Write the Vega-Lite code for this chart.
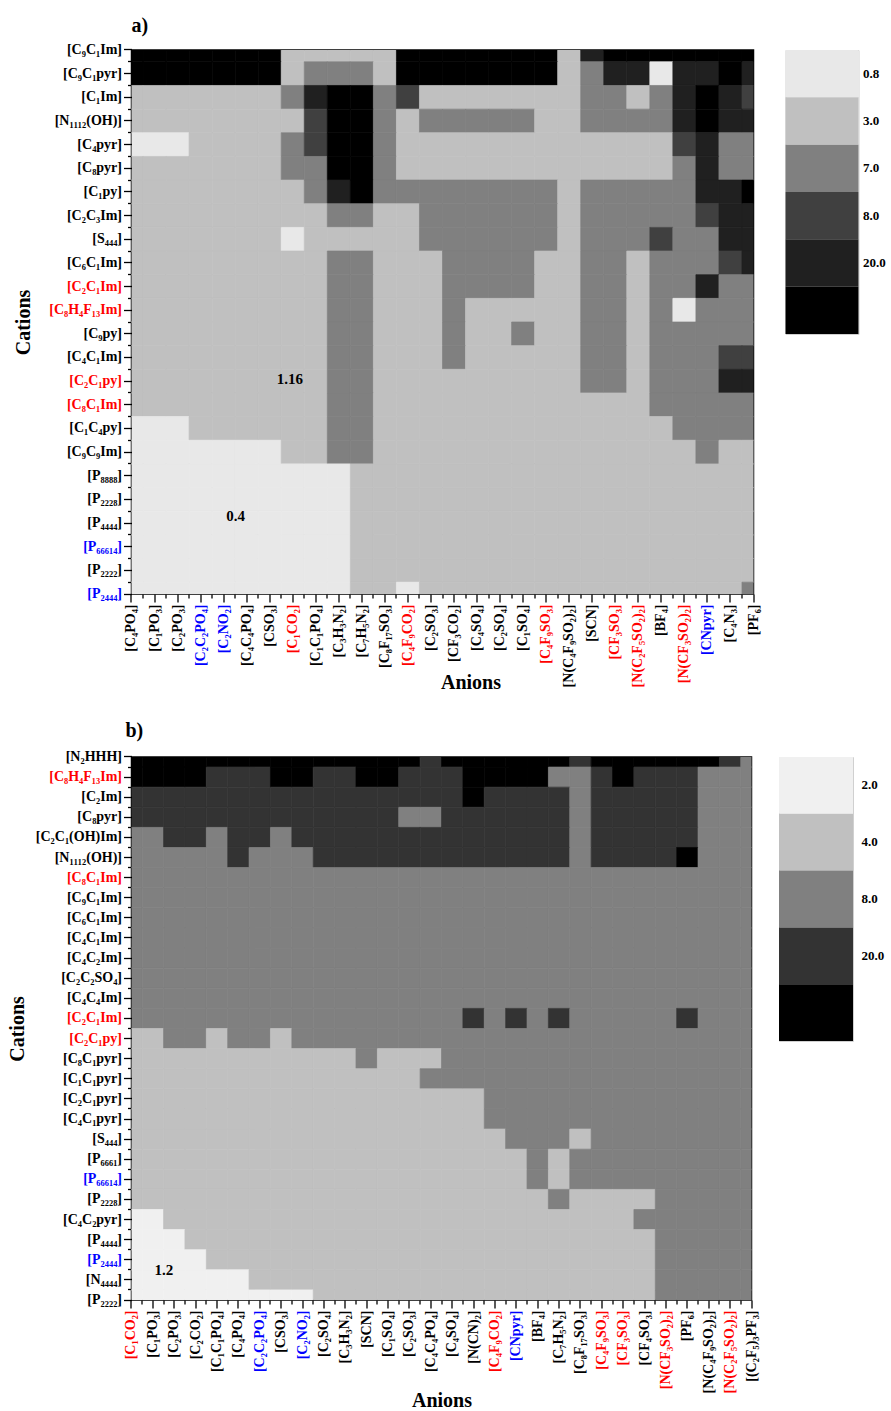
{
"$schema":"https://vega.github.io/schema/vega-lite/v6.json",
"background":"white",
"padding":{"left":6.5,"top":15,"right":0,"bottom":0},
"config":{"font":"Liberation Serif","view":{"stroke":"black","strokeWidth":1.5},
"axis":{"labelFont":"Liberation Serif","labelFontWeight":"bold","labelFontSize":14,"labelColor":"black","tickColor":"black","tickWidth":1.3,"titleFont":"Liberation Serif","titleFontWeight":"bold","titleFontSize":20,"titleColor":"black","domain":false,"grid":false,"labelOverlap":false,"labelFlush":false},
"title":{"font":"Liberation Serif","fontWeight":"bold","fontSize":20,"color":"black"}},
"resolve":{"scale":{"color":"independent","stroke":"independent"}},
"spacing":27,
"datasets":{
"la":[{"cls":"<0.8","v":0.4},{"cls":"0.8-3.0","v":1.16},{"cls":"3.0-7.0","v":5},{"cls":"7.0-8.0","v":7.5},{"cls":"8.0-20.0","v":12},{"cls":">20.0","v":30}],
"lb":[{"cls":"<2.0","v":1.2},{"cls":"2.0-4.0","v":3},{"cls":"4.0-8.0","v":6},{"cls":"8.0-20.0","v":12},{"cls":">20.0","v":30}],
"ta1":[{"x":"C1CO2","y":"C2C1py","t":"1.16"}],
"ta2":[{"x":"C2NO2","y":"P4444","t":"0.4"}],
"tb":[{"x":"C1PO3","y":"P2444","t":"1.2"}],
"a":[
{"x":"C4PO4","y":"C9C1Im","v":30},{"x":"C1PO3","y":"C9C1Im","v":30},{"x":"C2PO3","y":"C9C1Im","v":30},{"x":"C2C2PO4","y":"C9C1Im","v":30},{"x":"C2NO2","y":"C9C1Im","v":30},{"x":"C4C4PO4","y":"C9C1Im","v":30},{"x":"CSO3","y":"C9C1Im","v":30},{"x":"C1CO2","y":"C9C1Im","v":1.16},{"x":"C1C1PO4","y":"C9C1Im","v":1.16},{"x":"C3H3N2","y":"C9C1Im","v":1.16},{"x":"C7H5N2","y":"C9C1Im","v":1.16},{"x":"C8F17SO3","y":"C9C1Im","v":1.16},{"x":"C4F9CO2","y":"C9C1Im","v":30},{"x":"C2SO3","y":"C9C1Im","v":30},{"x":"CF3CO2","y":"C9C1Im","v":30},{"x":"C4SO4","y":"C9C1Im","v":30},{"x":"C2SO4","y":"C9C1Im","v":30},{"x":"C1SO4","y":"C9C1Im","v":30},{"x":"C4F9SO3","y":"C9C1Im","v":30},{"x":"N(C4F9SO2)2","y":"C9C1Im","v":1.16},{"x":"SCN","y":"C9C1Im","v":12},{"x":"CF3SO3","y":"C9C1Im","v":30},{"x":"N(C2F5SO2)2","y":"C9C1Im","v":30},{"x":"BF4","y":"C9C1Im","v":30},{"x":"N(CF3SO2)2","y":"C9C1Im","v":30},{"x":"CNpyr","y":"C9C1Im","v":30},{"x":"C4N3","y":"C9C1Im","v":30},{"x":"PF6","y":"C9C1Im","v":30},
{"x":"C4PO4","y":"C9C1pyr","v":30},{"x":"C1PO3","y":"C9C1pyr","v":30},{"x":"C2PO3","y":"C9C1pyr","v":30},{"x":"C2C2PO4","y":"C9C1pyr","v":30},{"x":"C2NO2","y":"C9C1pyr","v":30},{"x":"C4C4PO4","y":"C9C1pyr","v":30},{"x":"CSO3","y":"C9C1pyr","v":30},{"x":"C1CO2","y":"C9C1pyr","v":1.16},{"x":"C1C1PO4","y":"C9C1pyr","v":5},{"x":"C3H3N2","y":"C9C1pyr","v":5},{"x":"C7H5N2","y":"C9C1pyr","v":5},{"x":"C8F17SO3","y":"C9C1pyr","v":1.16},{"x":"C4F9CO2","y":"C9C1pyr","v":30},{"x":"C2SO3","y":"C9C1pyr","v":30},{"x":"CF3CO2","y":"C9C1pyr","v":30},{"x":"C4SO4","y":"C9C1pyr","v":30},{"x":"C2SO4","y":"C9C1pyr","v":30},{"x":"C1SO4","y":"C9C1pyr","v":30},{"x":"C4F9SO3","y":"C9C1pyr","v":30},{"x":"N(C4F9SO2)2","y":"C9C1pyr","v":1.16},{"x":"SCN","y":"C9C1pyr","v":5},{"x":"CF3SO3","y":"C9C1pyr","v":12},{"x":"N(C2F5SO2)2","y":"C9C1pyr","v":12},{"x":"BF4","y":"C9C1pyr","v":0.4},{"x":"N(CF3SO2)2","y":"C9C1pyr","v":12},{"x":"CNpyr","y":"C9C1pyr","v":12},{"x":"C4N3","y":"C9C1pyr","v":30},{"x":"PF6","y":"C9C1pyr","v":12},
{"x":"C4PO4","y":"C1Im","v":1.16},{"x":"C1PO3","y":"C1Im","v":1.16},{"x":"C2PO3","y":"C1Im","v":1.16},{"x":"C2C2PO4","y":"C1Im","v":1.16},{"x":"C2NO2","y":"C1Im","v":1.16},{"x":"C4C4PO4","y":"C1Im","v":1.16},{"x":"CSO3","y":"C1Im","v":1.16},{"x":"C1CO2","y":"C1Im","v":5},{"x":"C1C1PO4","y":"C1Im","v":12},{"x":"C3H3N2","y":"C1Im","v":30},{"x":"C7H5N2","y":"C1Im","v":30},{"x":"C8F17SO3","y":"C1Im","v":5},{"x":"C4F9CO2","y":"C1Im","v":7.5},{"x":"C2SO3","y":"C1Im","v":1.16},{"x":"CF3CO2","y":"C1Im","v":1.16},{"x":"C4SO4","y":"C1Im","v":1.16},{"x":"C2SO4","y":"C1Im","v":1.16},{"x":"C1SO4","y":"C1Im","v":1.16},{"x":"C4F9SO3","y":"C1Im","v":1.16},{"x":"N(C4F9SO2)2","y":"C1Im","v":1.16},{"x":"SCN","y":"C1Im","v":5},{"x":"CF3SO3","y":"C1Im","v":5},{"x":"N(C2F5SO2)2","y":"C1Im","v":1.16},{"x":"BF4","y":"C1Im","v":5},{"x":"N(CF3SO2)2","y":"C1Im","v":12},{"x":"CNpyr","y":"C1Im","v":30},{"x":"C4N3","y":"C1Im","v":12},{"x":"PF6","y":"C1Im","v":7.5},
{"x":"C4PO4","y":"N1112(OH)","v":1.16},{"x":"C1PO3","y":"N1112(OH)","v":1.16},{"x":"C2PO3","y":"N1112(OH)","v":1.16},{"x":"C2C2PO4","y":"N1112(OH)","v":1.16},{"x":"C2NO2","y":"N1112(OH)","v":1.16},{"x":"C4C4PO4","y":"N1112(OH)","v":1.16},{"x":"CSO3","y":"N1112(OH)","v":1.16},{"x":"C1CO2","y":"N1112(OH)","v":1.16},{"x":"C1C1PO4","y":"N1112(OH)","v":7.5},{"x":"C3H3N2","y":"N1112(OH)","v":30},{"x":"C7H5N2","y":"N1112(OH)","v":30},{"x":"C8F17SO3","y":"N1112(OH)","v":5},{"x":"C4F9CO2","y":"N1112(OH)","v":1.16},{"x":"C2SO3","y":"N1112(OH)","v":5},{"x":"CF3CO2","y":"N1112(OH)","v":5},{"x":"C4SO4","y":"N1112(OH)","v":5},{"x":"C2SO4","y":"N1112(OH)","v":5},{"x":"C1SO4","y":"N1112(OH)","v":5},{"x":"C4F9SO3","y":"N1112(OH)","v":1.16},{"x":"N(C4F9SO2)2","y":"N1112(OH)","v":1.16},{"x":"SCN","y":"N1112(OH)","v":5},{"x":"CF3SO3","y":"N1112(OH)","v":5},{"x":"N(C2F5SO2)2","y":"N1112(OH)","v":5},{"x":"BF4","y":"N1112(OH)","v":5},{"x":"N(CF3SO2)2","y":"N1112(OH)","v":12},{"x":"CNpyr","y":"N1112(OH)","v":30},{"x":"C4N3","y":"N1112(OH)","v":12},{"x":"PF6","y":"N1112(OH)","v":12},
{"x":"C4PO4","y":"C4pyr","v":0.4},{"x":"C1PO3","y":"C4pyr","v":0.4},{"x":"C2PO3","y":"C4pyr","v":0.4},{"x":"C2C2PO4","y":"C4pyr","v":1.16},{"x":"C2NO2","y":"C4pyr","v":1.16},{"x":"C4C4PO4","y":"C4pyr","v":1.16},{"x":"CSO3","y":"C4pyr","v":1.16},{"x":"C1CO2","y":"C4pyr","v":5},{"x":"C1C1PO4","y":"C4pyr","v":7.5},{"x":"C3H3N2","y":"C4pyr","v":30},{"x":"C7H5N2","y":"C4pyr","v":30},{"x":"C8F17SO3","y":"C4pyr","v":5},{"x":"C4F9CO2","y":"C4pyr","v":1.16},{"x":"C2SO3","y":"C4pyr","v":1.16},{"x":"CF3CO2","y":"C4pyr","v":1.16},{"x":"C4SO4","y":"C4pyr","v":1.16},{"x":"C2SO4","y":"C4pyr","v":1.16},{"x":"C1SO4","y":"C4pyr","v":1.16},{"x":"C4F9SO3","y":"C4pyr","v":1.16},{"x":"N(C4F9SO2)2","y":"C4pyr","v":1.16},{"x":"SCN","y":"C4pyr","v":1.16},{"x":"CF3SO3","y":"C4pyr","v":1.16},{"x":"N(C2F5SO2)2","y":"C4pyr","v":1.16},{"x":"BF4","y":"C4pyr","v":1.16},{"x":"N(CF3SO2)2","y":"C4pyr","v":7.5},{"x":"CNpyr","y":"C4pyr","v":12},{"x":"C4N3","y":"C4pyr","v":5},{"x":"PF6","y":"C4pyr","v":5},
{"x":"C4PO4","y":"C8pyr","v":1.16},{"x":"C1PO3","y":"C8pyr","v":1.16},{"x":"C2PO3","y":"C8pyr","v":1.16},{"x":"C2C2PO4","y":"C8pyr","v":1.16},{"x":"C2NO2","y":"C8pyr","v":1.16},{"x":"C4C4PO4","y":"C8pyr","v":1.16},{"x":"CSO3","y":"C8pyr","v":1.16},{"x":"C1CO2","y":"C8pyr","v":5},{"x":"C1C1PO4","y":"C8pyr","v":5},{"x":"C3H3N2","y":"C8pyr","v":30},{"x":"C7H5N2","y":"C8pyr","v":30},{"x":"C8F17SO3","y":"C8pyr","v":5},{"x":"C4F9CO2","y":"C8pyr","v":1.16},{"x":"C2SO3","y":"C8pyr","v":1.16},{"x":"CF3CO2","y":"C8pyr","v":1.16},{"x":"C4SO4","y":"C8pyr","v":1.16},{"x":"C2SO4","y":"C8pyr","v":1.16},{"x":"C1SO4","y":"C8pyr","v":1.16},{"x":"C4F9SO3","y":"C8pyr","v":1.16},{"x":"N(C4F9SO2)2","y":"C8pyr","v":1.16},{"x":"SCN","y":"C8pyr","v":1.16},{"x":"CF3SO3","y":"C8pyr","v":1.16},{"x":"N(C2F5SO2)2","y":"C8pyr","v":1.16},{"x":"BF4","y":"C8pyr","v":1.16},{"x":"N(CF3SO2)2","y":"C8pyr","v":5},{"x":"CNpyr","y":"C8pyr","v":12},{"x":"C4N3","y":"C8pyr","v":5},{"x":"PF6","y":"C8pyr","v":5},
{"x":"C4PO4","y":"C1py","v":1.16},{"x":"C1PO3","y":"C1py","v":1.16},{"x":"C2PO3","y":"C1py","v":1.16},{"x":"C2C2PO4","y":"C1py","v":1.16},{"x":"C2NO2","y":"C1py","v":1.16},{"x":"C4C4PO4","y":"C1py","v":1.16},{"x":"CSO3","y":"C1py","v":1.16},{"x":"C1CO2","y":"C1py","v":1.16},{"x":"C1C1PO4","y":"C1py","v":5},{"x":"C3H3N2","y":"C1py","v":12},{"x":"C7H5N2","y":"C1py","v":30},{"x":"C8F17SO3","y":"C1py","v":5},{"x":"C4F9CO2","y":"C1py","v":5},{"x":"C2SO3","y":"C1py","v":5},{"x":"CF3CO2","y":"C1py","v":5},{"x":"C4SO4","y":"C1py","v":5},{"x":"C2SO4","y":"C1py","v":5},{"x":"C1SO4","y":"C1py","v":5},{"x":"C4F9SO3","y":"C1py","v":5},{"x":"N(C4F9SO2)2","y":"C1py","v":1.16},{"x":"SCN","y":"C1py","v":5},{"x":"CF3SO3","y":"C1py","v":5},{"x":"N(C2F5SO2)2","y":"C1py","v":5},{"x":"BF4","y":"C1py","v":5},{"x":"N(CF3SO2)2","y":"C1py","v":5},{"x":"CNpyr","y":"C1py","v":12},{"x":"C4N3","y":"C1py","v":12},{"x":"PF6","y":"C1py","v":30},
{"x":"C4PO4","y":"C2C3Im","v":1.16},{"x":"C1PO3","y":"C2C3Im","v":1.16},{"x":"C2PO3","y":"C2C3Im","v":1.16},{"x":"C2C2PO4","y":"C2C3Im","v":1.16},{"x":"C2NO2","y":"C2C3Im","v":1.16},{"x":"C4C4PO4","y":"C2C3Im","v":1.16},{"x":"CSO3","y":"C2C3Im","v":1.16},{"x":"C1CO2","y":"C2C3Im","v":1.16},{"x":"C1C1PO4","y":"C2C3Im","v":1.16},{"x":"C3H3N2","y":"C2C3Im","v":5},{"x":"C7H5N2","y":"C2C3Im","v":5},{"x":"C8F17SO3","y":"C2C3Im","v":1.16},{"x":"C4F9CO2","y":"C2C3Im","v":1.16},{"x":"C2SO3","y":"C2C3Im","v":5},{"x":"CF3CO2","y":"C2C3Im","v":5},{"x":"C4SO4","y":"C2C3Im","v":5},{"x":"C2SO4","y":"C2C3Im","v":5},{"x":"C1SO4","y":"C2C3Im","v":5},{"x":"C4F9SO3","y":"C2C3Im","v":5},{"x":"N(C4F9SO2)2","y":"C2C3Im","v":1.16},{"x":"SCN","y":"C2C3Im","v":5},{"x":"CF3SO3","y":"C2C3Im","v":5},{"x":"N(C2F5SO2)2","y":"C2C3Im","v":5},{"x":"BF4","y":"C2C3Im","v":5},{"x":"N(CF3SO2)2","y":"C2C3Im","v":5},{"x":"CNpyr","y":"C2C3Im","v":7.5},{"x":"C4N3","y":"C2C3Im","v":12},{"x":"PF6","y":"C2C3Im","v":12},
{"x":"C4PO4","y":"S444","v":1.16},{"x":"C1PO3","y":"S444","v":1.16},{"x":"C2PO3","y":"S444","v":1.16},{"x":"C2C2PO4","y":"S444","v":1.16},{"x":"C2NO2","y":"S444","v":1.16},{"x":"C4C4PO4","y":"S444","v":1.16},{"x":"CSO3","y":"S444","v":1.16},{"x":"C1CO2","y":"S444","v":0.4},{"x":"C1C1PO4","y":"S444","v":1.16},{"x":"C3H3N2","y":"S444","v":1.16},{"x":"C7H5N2","y":"S444","v":1.16},{"x":"C8F17SO3","y":"S444","v":1.16},{"x":"C4F9CO2","y":"S444","v":1.16},{"x":"C2SO3","y":"S444","v":5},{"x":"CF3CO2","y":"S444","v":5},{"x":"C4SO4","y":"S444","v":5},{"x":"C2SO4","y":"S444","v":5},{"x":"C1SO4","y":"S444","v":5},{"x":"C4F9SO3","y":"S444","v":5},{"x":"N(C4F9SO2)2","y":"S444","v":1.16},{"x":"SCN","y":"S444","v":5},{"x":"CF3SO3","y":"S444","v":5},{"x":"N(C2F5SO2)2","y":"S444","v":5},{"x":"BF4","y":"S444","v":7.5},{"x":"N(CF3SO2)2","y":"S444","v":5},{"x":"CNpyr","y":"S444","v":5},{"x":"C4N3","y":"S444","v":12},{"x":"PF6","y":"S444","v":12},
{"x":"C4PO4","y":"C6C1Im","v":1.16},{"x":"C1PO3","y":"C6C1Im","v":1.16},{"x":"C2PO3","y":"C6C1Im","v":1.16},{"x":"C2C2PO4","y":"C6C1Im","v":1.16},{"x":"C2NO2","y":"C6C1Im","v":1.16},{"x":"C4C4PO4","y":"C6C1Im","v":1.16},{"x":"CSO3","y":"C6C1Im","v":1.16},{"x":"C1CO2","y":"C6C1Im","v":1.16},{"x":"C1C1PO4","y":"C6C1Im","v":1.16},{"x":"C3H3N2","y":"C6C1Im","v":5},{"x":"C7H5N2","y":"C6C1Im","v":5},{"x":"C8F17SO3","y":"C6C1Im","v":1.16},{"x":"C4F9CO2","y":"C6C1Im","v":1.16},{"x":"C2SO3","y":"C6C1Im","v":1.16},{"x":"CF3CO2","y":"C6C1Im","v":5},{"x":"C4SO4","y":"C6C1Im","v":5},{"x":"C2SO4","y":"C6C1Im","v":5},{"x":"C1SO4","y":"C6C1Im","v":5},{"x":"C4F9SO3","y":"C6C1Im","v":1.16},{"x":"N(C4F9SO2)2","y":"C6C1Im","v":1.16},{"x":"SCN","y":"C6C1Im","v":5},{"x":"CF3SO3","y":"C6C1Im","v":5},{"x":"N(C2F5SO2)2","y":"C6C1Im","v":1.16},{"x":"BF4","y":"C6C1Im","v":5},{"x":"N(CF3SO2)2","y":"C6C1Im","v":5},{"x":"CNpyr","y":"C6C1Im","v":5},{"x":"C4N3","y":"C6C1Im","v":7.5},{"x":"PF6","y":"C6C1Im","v":12},
{"x":"C4PO4","y":"C2C1Im","v":1.16},{"x":"C1PO3","y":"C2C1Im","v":1.16},{"x":"C2PO3","y":"C2C1Im","v":1.16},{"x":"C2C2PO4","y":"C2C1Im","v":1.16},{"x":"C2NO2","y":"C2C1Im","v":1.16},{"x":"C4C4PO4","y":"C2C1Im","v":1.16},{"x":"CSO3","y":"C2C1Im","v":1.16},{"x":"C1CO2","y":"C2C1Im","v":1.16},{"x":"C1C1PO4","y":"C2C1Im","v":1.16},{"x":"C3H3N2","y":"C2C1Im","v":5},{"x":"C7H5N2","y":"C2C1Im","v":5},{"x":"C8F17SO3","y":"C2C1Im","v":1.16},{"x":"C4F9CO2","y":"C2C1Im","v":1.16},{"x":"C2SO3","y":"C2C1Im","v":1.16},{"x":"CF3CO2","y":"C2C1Im","v":5},{"x":"C4SO4","y":"C2C1Im","v":5},{"x":"C2SO4","y":"C2C1Im","v":5},{"x":"C1SO4","y":"C2C1Im","v":5},{"x":"C4F9SO3","y":"C2C1Im","v":1.16},{"x":"N(C4F9SO2)2","y":"C2C1Im","v":1.16},{"x":"SCN","y":"C2C1Im","v":5},{"x":"CF3SO3","y":"C2C1Im","v":5},{"x":"N(C2F5SO2)2","y":"C2C1Im","v":1.16},{"x":"BF4","y":"C2C1Im","v":5},{"x":"N(CF3SO2)2","y":"C2C1Im","v":5},{"x":"CNpyr","y":"C2C1Im","v":12},{"x":"C4N3","y":"C2C1Im","v":5},{"x":"PF6","y":"C2C1Im","v":5},
{"x":"C4PO4","y":"C8H4F13Im","v":1.16},{"x":"C1PO3","y":"C8H4F13Im","v":1.16},{"x":"C2PO3","y":"C8H4F13Im","v":1.16},{"x":"C2C2PO4","y":"C8H4F13Im","v":1.16},{"x":"C2NO2","y":"C8H4F13Im","v":1.16},{"x":"C4C4PO4","y":"C8H4F13Im","v":1.16},{"x":"CSO3","y":"C8H4F13Im","v":1.16},{"x":"C1CO2","y":"C8H4F13Im","v":1.16},{"x":"C1C1PO4","y":"C8H4F13Im","v":1.16},{"x":"C3H3N2","y":"C8H4F13Im","v":5},{"x":"C7H5N2","y":"C8H4F13Im","v":5},{"x":"C8F17SO3","y":"C8H4F13Im","v":1.16},{"x":"C4F9CO2","y":"C8H4F13Im","v":1.16},{"x":"C2SO3","y":"C8H4F13Im","v":1.16},{"x":"CF3CO2","y":"C8H4F13Im","v":5},{"x":"C4SO4","y":"C8H4F13Im","v":1.16},{"x":"C2SO4","y":"C8H4F13Im","v":1.16},{"x":"C1SO4","y":"C8H4F13Im","v":1.16},{"x":"C4F9SO3","y":"C8H4F13Im","v":1.16},{"x":"N(C4F9SO2)2","y":"C8H4F13Im","v":1.16},{"x":"SCN","y":"C8H4F13Im","v":5},{"x":"CF3SO3","y":"C8H4F13Im","v":5},{"x":"N(C2F5SO2)2","y":"C8H4F13Im","v":1.16},{"x":"BF4","y":"C8H4F13Im","v":5},{"x":"N(CF3SO2)2","y":"C8H4F13Im","v":0.4},{"x":"CNpyr","y":"C8H4F13Im","v":5},{"x":"C4N3","y":"C8H4F13Im","v":5},{"x":"PF6","y":"C8H4F13Im","v":5},
{"x":"C4PO4","y":"C9py","v":1.16},{"x":"C1PO3","y":"C9py","v":1.16},{"x":"C2PO3","y":"C9py","v":1.16},{"x":"C2C2PO4","y":"C9py","v":1.16},{"x":"C2NO2","y":"C9py","v":1.16},{"x":"C4C4PO4","y":"C9py","v":1.16},{"x":"CSO3","y":"C9py","v":1.16},{"x":"C1CO2","y":"C9py","v":1.16},{"x":"C1C1PO4","y":"C9py","v":1.16},{"x":"C3H3N2","y":"C9py","v":5},{"x":"C7H5N2","y":"C9py","v":5},{"x":"C8F17SO3","y":"C9py","v":1.16},{"x":"C4F9CO2","y":"C9py","v":1.16},{"x":"C2SO3","y":"C9py","v":1.16},{"x":"CF3CO2","y":"C9py","v":5},{"x":"C4SO4","y":"C9py","v":1.16},{"x":"C2SO4","y":"C9py","v":1.16},{"x":"C1SO4","y":"C9py","v":5},{"x":"C4F9SO3","y":"C9py","v":1.16},{"x":"N(C4F9SO2)2","y":"C9py","v":1.16},{"x":"SCN","y":"C9py","v":5},{"x":"CF3SO3","y":"C9py","v":5},{"x":"N(C2F5SO2)2","y":"C9py","v":1.16},{"x":"BF4","y":"C9py","v":5},{"x":"N(CF3SO2)2","y":"C9py","v":5},{"x":"CNpyr","y":"C9py","v":5},{"x":"C4N3","y":"C9py","v":5},{"x":"PF6","y":"C9py","v":5},
{"x":"C4PO4","y":"C4C1Im","v":1.16},{"x":"C1PO3","y":"C4C1Im","v":1.16},{"x":"C2PO3","y":"C4C1Im","v":1.16},{"x":"C2C2PO4","y":"C4C1Im","v":1.16},{"x":"C2NO2","y":"C4C1Im","v":1.16},{"x":"C4C4PO4","y":"C4C1Im","v":1.16},{"x":"CSO3","y":"C4C1Im","v":1.16},{"x":"C1CO2","y":"C4C1Im","v":1.16},{"x":"C1C1PO4","y":"C4C1Im","v":1.16},{"x":"C3H3N2","y":"C4C1Im","v":5},{"x":"C7H5N2","y":"C4C1Im","v":5},{"x":"C8F17SO3","y":"C4C1Im","v":1.16},{"x":"C4F9CO2","y":"C4C1Im","v":1.16},{"x":"C2SO3","y":"C4C1Im","v":1.16},{"x":"CF3CO2","y":"C4C1Im","v":5},{"x":"C4SO4","y":"C4C1Im","v":1.16},{"x":"C2SO4","y":"C4C1Im","v":1.16},{"x":"C1SO4","y":"C4C1Im","v":1.16},{"x":"C4F9SO3","y":"C4C1Im","v":1.16},{"x":"N(C4F9SO2)2","y":"C4C1Im","v":1.16},{"x":"SCN","y":"C4C1Im","v":5},{"x":"CF3SO3","y":"C4C1Im","v":5},{"x":"N(C2F5SO2)2","y":"C4C1Im","v":1.16},{"x":"BF4","y":"C4C1Im","v":5},{"x":"N(CF3SO2)2","y":"C4C1Im","v":5},{"x":"CNpyr","y":"C4C1Im","v":5},{"x":"C4N3","y":"C4C1Im","v":7.5},{"x":"PF6","y":"C4C1Im","v":7.5},
{"x":"C4PO4","y":"C2C1py","v":1.16},{"x":"C1PO3","y":"C2C1py","v":1.16},{"x":"C2PO3","y":"C2C1py","v":1.16},{"x":"C2C2PO4","y":"C2C1py","v":1.16},{"x":"C2NO2","y":"C2C1py","v":1.16},{"x":"C4C4PO4","y":"C2C1py","v":1.16},{"x":"CSO3","y":"C2C1py","v":1.16},{"x":"C1CO2","y":"C2C1py","v":1.16},{"x":"C1C1PO4","y":"C2C1py","v":1.16},{"x":"C3H3N2","y":"C2C1py","v":5},{"x":"C7H5N2","y":"C2C1py","v":5},{"x":"C8F17SO3","y":"C2C1py","v":1.16},{"x":"C4F9CO2","y":"C2C1py","v":1.16},{"x":"C2SO3","y":"C2C1py","v":1.16},{"x":"CF3CO2","y":"C2C1py","v":1.16},{"x":"C4SO4","y":"C2C1py","v":1.16},{"x":"C2SO4","y":"C2C1py","v":1.16},{"x":"C1SO4","y":"C2C1py","v":1.16},{"x":"C4F9SO3","y":"C2C1py","v":1.16},{"x":"N(C4F9SO2)2","y":"C2C1py","v":1.16},{"x":"SCN","y":"C2C1py","v":5},{"x":"CF3SO3","y":"C2C1py","v":5},{"x":"N(C2F5SO2)2","y":"C2C1py","v":1.16},{"x":"BF4","y":"C2C1py","v":5},{"x":"N(CF3SO2)2","y":"C2C1py","v":5},{"x":"CNpyr","y":"C2C1py","v":5},{"x":"C4N3","y":"C2C1py","v":12},{"x":"PF6","y":"C2C1py","v":12},
{"x":"C4PO4","y":"C8C1Im","v":1.16},{"x":"C1PO3","y":"C8C1Im","v":1.16},{"x":"C2PO3","y":"C8C1Im","v":1.16},{"x":"C2C2PO4","y":"C8C1Im","v":1.16},{"x":"C2NO2","y":"C8C1Im","v":1.16},{"x":"C4C4PO4","y":"C8C1Im","v":1.16},{"x":"CSO3","y":"C8C1Im","v":1.16},{"x":"C1CO2","y":"C8C1Im","v":1.16},{"x":"C1C1PO4","y":"C8C1Im","v":1.16},{"x":"C3H3N2","y":"C8C1Im","v":5},{"x":"C7H5N2","y":"C8C1Im","v":5},{"x":"C8F17SO3","y":"C8C1Im","v":1.16},{"x":"C4F9CO2","y":"C8C1Im","v":1.16},{"x":"C2SO3","y":"C8C1Im","v":1.16},{"x":"CF3CO2","y":"C8C1Im","v":1.16},{"x":"C4SO4","y":"C8C1Im","v":1.16},{"x":"C2SO4","y":"C8C1Im","v":1.16},{"x":"C1SO4","y":"C8C1Im","v":1.16},{"x":"C4F9SO3","y":"C8C1Im","v":1.16},{"x":"N(C4F9SO2)2","y":"C8C1Im","v":1.16},{"x":"SCN","y":"C8C1Im","v":1.16},{"x":"CF3SO3","y":"C8C1Im","v":1.16},{"x":"N(C2F5SO2)2","y":"C8C1Im","v":1.16},{"x":"BF4","y":"C8C1Im","v":5},{"x":"N(CF3SO2)2","y":"C8C1Im","v":5},{"x":"CNpyr","y":"C8C1Im","v":5},{"x":"C4N3","y":"C8C1Im","v":5},{"x":"PF6","y":"C8C1Im","v":5},
{"x":"C4PO4","y":"C1C4py","v":0.4},{"x":"C1PO3","y":"C1C4py","v":0.4},{"x":"C2PO3","y":"C1C4py","v":0.4},{"x":"C2C2PO4","y":"C1C4py","v":1.16},{"x":"C2NO2","y":"C1C4py","v":1.16},{"x":"C4C4PO4","y":"C1C4py","v":1.16},{"x":"CSO3","y":"C1C4py","v":1.16},{"x":"C1CO2","y":"C1C4py","v":1.16},{"x":"C1C1PO4","y":"C1C4py","v":1.16},{"x":"C3H3N2","y":"C1C4py","v":5},{"x":"C7H5N2","y":"C1C4py","v":5},{"x":"C8F17SO3","y":"C1C4py","v":1.16},{"x":"C4F9CO2","y":"C1C4py","v":1.16},{"x":"C2SO3","y":"C1C4py","v":1.16},{"x":"CF3CO2","y":"C1C4py","v":1.16},{"x":"C4SO4","y":"C1C4py","v":1.16},{"x":"C2SO4","y":"C1C4py","v":1.16},{"x":"C1SO4","y":"C1C4py","v":1.16},{"x":"C4F9SO3","y":"C1C4py","v":1.16},{"x":"N(C4F9SO2)2","y":"C1C4py","v":1.16},{"x":"SCN","y":"C1C4py","v":1.16},{"x":"CF3SO3","y":"C1C4py","v":1.16},{"x":"N(C2F5SO2)2","y":"C1C4py","v":1.16},{"x":"BF4","y":"C1C4py","v":1.16},{"x":"N(CF3SO2)2","y":"C1C4py","v":5},{"x":"CNpyr","y":"C1C4py","v":5},{"x":"C4N3","y":"C1C4py","v":5},{"x":"PF6","y":"C1C4py","v":5},
{"x":"C4PO4","y":"C9C9Im","v":0.4},{"x":"C1PO3","y":"C9C9Im","v":0.4},{"x":"C2PO3","y":"C9C9Im","v":0.4},{"x":"C2C2PO4","y":"C9C9Im","v":0.4},{"x":"C2NO2","y":"C9C9Im","v":0.4},{"x":"C4C4PO4","y":"C9C9Im","v":0.4},{"x":"CSO3","y":"C9C9Im","v":0.4},{"x":"C1CO2","y":"C9C9Im","v":1.16},{"x":"C1C1PO4","y":"C9C9Im","v":1.16},{"x":"C3H3N2","y":"C9C9Im","v":5},{"x":"C7H5N2","y":"C9C9Im","v":5},{"x":"C8F17SO3","y":"C9C9Im","v":1.16},{"x":"C4F9CO2","y":"C9C9Im","v":1.16},{"x":"C2SO3","y":"C9C9Im","v":1.16},{"x":"CF3CO2","y":"C9C9Im","v":1.16},{"x":"C4SO4","y":"C9C9Im","v":1.16},{"x":"C2SO4","y":"C9C9Im","v":1.16},{"x":"C1SO4","y":"C9C9Im","v":1.16},{"x":"C4F9SO3","y":"C9C9Im","v":1.16},{"x":"N(C4F9SO2)2","y":"C9C9Im","v":1.16},{"x":"SCN","y":"C9C9Im","v":1.16},{"x":"CF3SO3","y":"C9C9Im","v":1.16},{"x":"N(C2F5SO2)2","y":"C9C9Im","v":1.16},{"x":"BF4","y":"C9C9Im","v":1.16},{"x":"N(CF3SO2)2","y":"C9C9Im","v":1.16},{"x":"CNpyr","y":"C9C9Im","v":5},{"x":"C4N3","y":"C9C9Im","v":1.16},{"x":"PF6","y":"C9C9Im","v":1.16},
{"x":"C4PO4","y":"P8888","v":0.4},{"x":"C1PO3","y":"P8888","v":0.4},{"x":"C2PO3","y":"P8888","v":0.4},{"x":"C2C2PO4","y":"P8888","v":0.4},{"x":"C2NO2","y":"P8888","v":0.4},{"x":"C4C4PO4","y":"P8888","v":0.4},{"x":"CSO3","y":"P8888","v":0.4},{"x":"C1CO2","y":"P8888","v":0.4},{"x":"C1C1PO4","y":"P8888","v":0.4},{"x":"C3H3N2","y":"P8888","v":0.4},{"x":"C7H5N2","y":"P8888","v":1.16},{"x":"C8F17SO3","y":"P8888","v":1.16},{"x":"C4F9CO2","y":"P8888","v":1.16},{"x":"C2SO3","y":"P8888","v":1.16},{"x":"CF3CO2","y":"P8888","v":1.16},{"x":"C4SO4","y":"P8888","v":1.16},{"x":"C2SO4","y":"P8888","v":1.16},{"x":"C1SO4","y":"P8888","v":1.16},{"x":"C4F9SO3","y":"P8888","v":1.16},{"x":"N(C4F9SO2)2","y":"P8888","v":1.16},{"x":"SCN","y":"P8888","v":1.16},{"x":"CF3SO3","y":"P8888","v":1.16},{"x":"N(C2F5SO2)2","y":"P8888","v":1.16},{"x":"BF4","y":"P8888","v":1.16},{"x":"N(CF3SO2)2","y":"P8888","v":1.16},{"x":"CNpyr","y":"P8888","v":1.16},{"x":"C4N3","y":"P8888","v":1.16},{"x":"PF6","y":"P8888","v":1.16},
{"x":"C4PO4","y":"P2228","v":0.4},{"x":"C1PO3","y":"P2228","v":0.4},{"x":"C2PO3","y":"P2228","v":0.4},{"x":"C2C2PO4","y":"P2228","v":0.4},{"x":"C2NO2","y":"P2228","v":0.4},{"x":"C4C4PO4","y":"P2228","v":0.4},{"x":"CSO3","y":"P2228","v":0.4},{"x":"C1CO2","y":"P2228","v":0.4},{"x":"C1C1PO4","y":"P2228","v":0.4},{"x":"C3H3N2","y":"P2228","v":0.4},{"x":"C7H5N2","y":"P2228","v":1.16},{"x":"C8F17SO3","y":"P2228","v":1.16},{"x":"C4F9CO2","y":"P2228","v":1.16},{"x":"C2SO3","y":"P2228","v":1.16},{"x":"CF3CO2","y":"P2228","v":1.16},{"x":"C4SO4","y":"P2228","v":1.16},{"x":"C2SO4","y":"P2228","v":1.16},{"x":"C1SO4","y":"P2228","v":1.16},{"x":"C4F9SO3","y":"P2228","v":1.16},{"x":"N(C4F9SO2)2","y":"P2228","v":1.16},{"x":"SCN","y":"P2228","v":1.16},{"x":"CF3SO3","y":"P2228","v":1.16},{"x":"N(C2F5SO2)2","y":"P2228","v":1.16},{"x":"BF4","y":"P2228","v":1.16},{"x":"N(CF3SO2)2","y":"P2228","v":1.16},{"x":"CNpyr","y":"P2228","v":1.16},{"x":"C4N3","y":"P2228","v":1.16},{"x":"PF6","y":"P2228","v":1.16},
{"x":"C4PO4","y":"P4444","v":0.4},{"x":"C1PO3","y":"P4444","v":0.4},{"x":"C2PO3","y":"P4444","v":0.4},{"x":"C2C2PO4","y":"P4444","v":0.4},{"x":"C2NO2","y":"P4444","v":0.4},{"x":"C4C4PO4","y":"P4444","v":0.4},{"x":"CSO3","y":"P4444","v":0.4},{"x":"C1CO2","y":"P4444","v":0.4},{"x":"C1C1PO4","y":"P4444","v":0.4},{"x":"C3H3N2","y":"P4444","v":0.4},{"x":"C7H5N2","y":"P4444","v":1.16},{"x":"C8F17SO3","y":"P4444","v":1.16},{"x":"C4F9CO2","y":"P4444","v":1.16},{"x":"C2SO3","y":"P4444","v":1.16},{"x":"CF3CO2","y":"P4444","v":1.16},{"x":"C4SO4","y":"P4444","v":1.16},{"x":"C2SO4","y":"P4444","v":1.16},{"x":"C1SO4","y":"P4444","v":1.16},{"x":"C4F9SO3","y":"P4444","v":1.16},{"x":"N(C4F9SO2)2","y":"P4444","v":1.16},{"x":"SCN","y":"P4444","v":1.16},{"x":"CF3SO3","y":"P4444","v":1.16},{"x":"N(C2F5SO2)2","y":"P4444","v":1.16},{"x":"BF4","y":"P4444","v":1.16},{"x":"N(CF3SO2)2","y":"P4444","v":1.16},{"x":"CNpyr","y":"P4444","v":1.16},{"x":"C4N3","y":"P4444","v":1.16},{"x":"PF6","y":"P4444","v":1.16},
{"x":"C4PO4","y":"P66614","v":0.4},{"x":"C1PO3","y":"P66614","v":0.4},{"x":"C2PO3","y":"P66614","v":0.4},{"x":"C2C2PO4","y":"P66614","v":0.4},{"x":"C2NO2","y":"P66614","v":0.4},{"x":"C4C4PO4","y":"P66614","v":0.4},{"x":"CSO3","y":"P66614","v":0.4},{"x":"C1CO2","y":"P66614","v":0.4},{"x":"C1C1PO4","y":"P66614","v":0.4},{"x":"C3H3N2","y":"P66614","v":0.4},{"x":"C7H5N2","y":"P66614","v":1.16},{"x":"C8F17SO3","y":"P66614","v":1.16},{"x":"C4F9CO2","y":"P66614","v":1.16},{"x":"C2SO3","y":"P66614","v":1.16},{"x":"CF3CO2","y":"P66614","v":1.16},{"x":"C4SO4","y":"P66614","v":1.16},{"x":"C2SO4","y":"P66614","v":1.16},{"x":"C1SO4","y":"P66614","v":1.16},{"x":"C4F9SO3","y":"P66614","v":1.16},{"x":"N(C4F9SO2)2","y":"P66614","v":1.16},{"x":"SCN","y":"P66614","v":1.16},{"x":"CF3SO3","y":"P66614","v":1.16},{"x":"N(C2F5SO2)2","y":"P66614","v":1.16},{"x":"BF4","y":"P66614","v":1.16},{"x":"N(CF3SO2)2","y":"P66614","v":1.16},{"x":"CNpyr","y":"P66614","v":1.16},{"x":"C4N3","y":"P66614","v":1.16},{"x":"PF6","y":"P66614","v":1.16},
{"x":"C4PO4","y":"P2222","v":0.4},{"x":"C1PO3","y":"P2222","v":0.4},{"x":"C2PO3","y":"P2222","v":0.4},{"x":"C2C2PO4","y":"P2222","v":0.4},{"x":"C2NO2","y":"P2222","v":0.4},{"x":"C4C4PO4","y":"P2222","v":0.4},{"x":"CSO3","y":"P2222","v":0.4},{"x":"C1CO2","y":"P2222","v":0.4},{"x":"C1C1PO4","y":"P2222","v":0.4},{"x":"C3H3N2","y":"P2222","v":0.4},{"x":"C7H5N2","y":"P2222","v":1.16},{"x":"C8F17SO3","y":"P2222","v":1.16},{"x":"C4F9CO2","y":"P2222","v":1.16},{"x":"C2SO3","y":"P2222","v":1.16},{"x":"CF3CO2","y":"P2222","v":1.16},{"x":"C4SO4","y":"P2222","v":1.16},{"x":"C2SO4","y":"P2222","v":1.16},{"x":"C1SO4","y":"P2222","v":1.16},{"x":"C4F9SO3","y":"P2222","v":1.16},{"x":"N(C4F9SO2)2","y":"P2222","v":1.16},{"x":"SCN","y":"P2222","v":1.16},{"x":"CF3SO3","y":"P2222","v":1.16},{"x":"N(C2F5SO2)2","y":"P2222","v":1.16},{"x":"BF4","y":"P2222","v":1.16},{"x":"N(CF3SO2)2","y":"P2222","v":1.16},{"x":"CNpyr","y":"P2222","v":1.16},{"x":"C4N3","y":"P2222","v":1.16},{"x":"PF6","y":"P2222","v":1.16},
{"x":"C4PO4","y":"P2444","v":0.4},{"x":"C1PO3","y":"P2444","v":0.4},{"x":"C2PO3","y":"P2444","v":0.4},{"x":"C2C2PO4","y":"P2444","v":0.4},{"x":"C2NO2","y":"P2444","v":0.4},{"x":"C4C4PO4","y":"P2444","v":0.4},{"x":"CSO3","y":"P2444","v":0.4},{"x":"C1CO2","y":"P2444","v":0.4},{"x":"C1C1PO4","y":"P2444","v":0.4},{"x":"C3H3N2","y":"P2444","v":0.4},{"x":"C7H5N2","y":"P2444","v":1.16},{"x":"C8F17SO3","y":"P2444","v":1.16},{"x":"C4F9CO2","y":"P2444","v":0.4},{"x":"C2SO3","y":"P2444","v":1.16},{"x":"CF3CO2","y":"P2444","v":1.16},{"x":"C4SO4","y":"P2444","v":1.16},{"x":"C2SO4","y":"P2444","v":1.16},{"x":"C1SO4","y":"P2444","v":1.16},{"x":"C4F9SO3","y":"P2444","v":1.16},{"x":"N(C4F9SO2)2","y":"P2444","v":1.16},{"x":"SCN","y":"P2444","v":1.16},{"x":"CF3SO3","y":"P2444","v":1.16},{"x":"N(C2F5SO2)2","y":"P2444","v":1.16},{"x":"BF4","y":"P2444","v":1.16},{"x":"N(CF3SO2)2","y":"P2444","v":1.16},{"x":"CNpyr","y":"P2444","v":1.16},{"x":"C4N3","y":"P2444","v":1.16},{"x":"PF6","y":"P2444","v":5}
],
"b":[
{"x":"C1CO2","y":"N2HHH","v":30},{"x":"C1PO3","y":"N2HHH","v":30},{"x":"C2PO3","y":"N2HHH","v":30},{"x":"C2CO2","y":"N2HHH","v":30},{"x":"C1C1PO4","y":"N2HHH","v":30},{"x":"C4PO4","y":"N2HHH","v":30},{"x":"C2C2PO4","y":"N2HHH","v":30},{"x":"CSO3","y":"N2HHH","v":30},{"x":"C2NO2","y":"N2HHH","v":30},{"x":"C2SO4","y":"N2HHH","v":30},{"x":"C3H3N2","y":"N2HHH","v":30},{"x":"SCN","y":"N2HHH","v":30},{"x":"C1SO4","y":"N2HHH","v":30},{"x":"C2SO3","y":"N2HHH","v":30},{"x":"C4C4PO4","y":"N2HHH","v":12},{"x":"C4SO4","y":"N2HHH","v":30},{"x":"N(CN)2","y":"N2HHH","v":30},{"x":"C4F9CO2","y":"N2HHH","v":30},{"x":"CNpyr","y":"N2HHH","v":30},{"x":"BF4","y":"N2HHH","v":30},{"x":"C7H5N2","y":"N2HHH","v":30},{"x":"C8F17SO3","y":"N2HHH","v":12},{"x":"C4F9SO3","y":"N2HHH","v":30},{"x":"CF3SO3","y":"N2HHH","v":30},{"x":"CF4SO3","y":"N2HHH","v":30},{"x":"N(CF3SO2)2","y":"N2HHH","v":30},{"x":"PF6","y":"N2HHH","v":30},{"x":"N(C4F9SO2)2","y":"N2HHH","v":30},{"x":"N(C2F5SO2)2","y":"N2HHH","v":12},{"x":"(C2F5)3PF3","y":"N2HHH","v":6},
{"x":"C1CO2","y":"C8H4F13Im","v":30},{"x":"C1PO3","y":"C8H4F13Im","v":30},{"x":"C2PO3","y":"C8H4F13Im","v":30},{"x":"C2CO2","y":"C8H4F13Im","v":30},{"x":"C1C1PO4","y":"C8H4F13Im","v":12},{"x":"C4PO4","y":"C8H4F13Im","v":12},{"x":"C2C2PO4","y":"C8H4F13Im","v":12},{"x":"CSO3","y":"C8H4F13Im","v":30},{"x":"C2NO2","y":"C8H4F13Im","v":30},{"x":"C2SO4","y":"C8H4F13Im","v":12},{"x":"C3H3N2","y":"C8H4F13Im","v":12},{"x":"SCN","y":"C8H4F13Im","v":30},{"x":"C1SO4","y":"C8H4F13Im","v":30},{"x":"C2SO3","y":"C8H4F13Im","v":12},{"x":"C4C4PO4","y":"C8H4F13Im","v":12},{"x":"C4SO4","y":"C8H4F13Im","v":12},{"x":"N(CN)2","y":"C8H4F13Im","v":30},{"x":"C4F9CO2","y":"C8H4F13Im","v":30},{"x":"CNpyr","y":"C8H4F13Im","v":30},{"x":"BF4","y":"C8H4F13Im","v":30},{"x":"C7H5N2","y":"C8H4F13Im","v":6},{"x":"C8F17SO3","y":"C8H4F13Im","v":6},{"x":"C4F9SO3","y":"C8H4F13Im","v":12},{"x":"CF3SO3","y":"C8H4F13Im","v":30},{"x":"CF4SO3","y":"C8H4F13Im","v":12},{"x":"N(CF3SO2)2","y":"C8H4F13Im","v":12},{"x":"PF6","y":"C8H4F13Im","v":12},{"x":"N(C4F9SO2)2","y":"C8H4F13Im","v":6},{"x":"N(C2F5SO2)2","y":"C8H4F13Im","v":6},{"x":"(C2F5)3PF3","y":"C8H4F13Im","v":6},
{"x":"C1CO2","y":"C2Im","v":12},{"x":"C1PO3","y":"C2Im","v":12},{"x":"C2PO3","y":"C2Im","v":12},{"x":"C2CO2","y":"C2Im","v":12},{"x":"C1C1PO4","y":"C2Im","v":12},{"x":"C4PO4","y":"C2Im","v":12},{"x":"C2C2PO4","y":"C2Im","v":12},{"x":"CSO3","y":"C2Im","v":12},{"x":"C2NO2","y":"C2Im","v":12},{"x":"C2SO4","y":"C2Im","v":12},{"x":"C3H3N2","y":"C2Im","v":12},{"x":"SCN","y":"C2Im","v":12},{"x":"C1SO4","y":"C2Im","v":12},{"x":"C2SO3","y":"C2Im","v":12},{"x":"C4C4PO4","y":"C2Im","v":12},{"x":"C4SO4","y":"C2Im","v":12},{"x":"N(CN)2","y":"C2Im","v":30},{"x":"C4F9CO2","y":"C2Im","v":12},{"x":"CNpyr","y":"C2Im","v":12},{"x":"BF4","y":"C2Im","v":12},{"x":"C7H5N2","y":"C2Im","v":12},{"x":"C8F17SO3","y":"C2Im","v":6},{"x":"C4F9SO3","y":"C2Im","v":12},{"x":"CF3SO3","y":"C2Im","v":12},{"x":"CF4SO3","y":"C2Im","v":12},{"x":"N(CF3SO2)2","y":"C2Im","v":12},{"x":"PF6","y":"C2Im","v":12},{"x":"N(C4F9SO2)2","y":"C2Im","v":6},{"x":"N(C2F5SO2)2","y":"C2Im","v":6},{"x":"(C2F5)3PF3","y":"C2Im","v":6},
{"x":"C1CO2","y":"C8pyr","v":12},{"x":"C1PO3","y":"C8pyr","v":12},{"x":"C2PO3","y":"C8pyr","v":12},{"x":"C2CO2","y":"C8pyr","v":12},{"x":"C1C1PO4","y":"C8pyr","v":12},{"x":"C4PO4","y":"C8pyr","v":12},{"x":"C2C2PO4","y":"C8pyr","v":12},{"x":"CSO3","y":"C8pyr","v":12},{"x":"C2NO2","y":"C8pyr","v":12},{"x":"C2SO4","y":"C8pyr","v":12},{"x":"C3H3N2","y":"C8pyr","v":12},{"x":"SCN","y":"C8pyr","v":12},{"x":"C1SO4","y":"C8pyr","v":12},{"x":"C2SO3","y":"C8pyr","v":6},{"x":"C4C4PO4","y":"C8pyr","v":6},{"x":"C4SO4","y":"C8pyr","v":12},{"x":"N(CN)2","y":"C8pyr","v":12},{"x":"C4F9CO2","y":"C8pyr","v":12},{"x":"CNpyr","y":"C8pyr","v":12},{"x":"BF4","y":"C8pyr","v":12},{"x":"C7H5N2","y":"C8pyr","v":12},{"x":"C8F17SO3","y":"C8pyr","v":6},{"x":"C4F9SO3","y":"C8pyr","v":12},{"x":"CF3SO3","y":"C8pyr","v":12},{"x":"CF4SO3","y":"C8pyr","v":12},{"x":"N(CF3SO2)2","y":"C8pyr","v":12},{"x":"PF6","y":"C8pyr","v":12},{"x":"N(C4F9SO2)2","y":"C8pyr","v":6},{"x":"N(C2F5SO2)2","y":"C8pyr","v":6},{"x":"(C2F5)3PF3","y":"C8pyr","v":6},
{"x":"C1CO2","y":"C2C1(OH)Im","v":6},{"x":"C1PO3","y":"C2C1(OH)Im","v":6},{"x":"C2PO3","y":"C2C1(OH)Im","v":12},{"x":"C2CO2","y":"C2C1(OH)Im","v":12},{"x":"C1C1PO4","y":"C2C1(OH)Im","v":6},{"x":"C4PO4","y":"C2C1(OH)Im","v":12},{"x":"C2C2PO4","y":"C2C1(OH)Im","v":12},{"x":"CSO3","y":"C2C1(OH)Im","v":6},{"x":"C2NO2","y":"C2C1(OH)Im","v":12},{"x":"C2SO4","y":"C2C1(OH)Im","v":12},{"x":"C3H3N2","y":"C2C1(OH)Im","v":12},{"x":"SCN","y":"C2C1(OH)Im","v":12},{"x":"C1SO4","y":"C2C1(OH)Im","v":12},{"x":"C2SO3","y":"C2C1(OH)Im","v":12},{"x":"C4C4PO4","y":"C2C1(OH)Im","v":12},{"x":"C4SO4","y":"C2C1(OH)Im","v":12},{"x":"N(CN)2","y":"C2C1(OH)Im","v":12},{"x":"C4F9CO2","y":"C2C1(OH)Im","v":12},{"x":"CNpyr","y":"C2C1(OH)Im","v":12},{"x":"BF4","y":"C2C1(OH)Im","v":12},{"x":"C7H5N2","y":"C2C1(OH)Im","v":12},{"x":"C8F17SO3","y":"C2C1(OH)Im","v":6},{"x":"C4F9SO3","y":"C2C1(OH)Im","v":12},{"x":"CF3SO3","y":"C2C1(OH)Im","v":12},{"x":"CF4SO3","y":"C2C1(OH)Im","v":12},{"x":"N(CF3SO2)2","y":"C2C1(OH)Im","v":12},{"x":"PF6","y":"C2C1(OH)Im","v":12},{"x":"N(C4F9SO2)2","y":"C2C1(OH)Im","v":6},{"x":"N(C2F5SO2)2","y":"C2C1(OH)Im","v":6},{"x":"(C2F5)3PF3","y":"C2C1(OH)Im","v":6},
{"x":"C1CO2","y":"N1112(OH)","v":6},{"x":"C1PO3","y":"N1112(OH)","v":6},{"x":"C2PO3","y":"N1112(OH)","v":6},{"x":"C2CO2","y":"N1112(OH)","v":6},{"x":"C1C1PO4","y":"N1112(OH)","v":6},{"x":"C4PO4","y":"N1112(OH)","v":12},{"x":"C2C2PO4","y":"N1112(OH)","v":6},{"x":"CSO3","y":"N1112(OH)","v":6},{"x":"C2NO2","y":"N1112(OH)","v":6},{"x":"C2SO4","y":"N1112(OH)","v":12},{"x":"C3H3N2","y":"N1112(OH)","v":12},{"x":"SCN","y":"N1112(OH)","v":12},{"x":"C1SO4","y":"N1112(OH)","v":12},{"x":"C2SO3","y":"N1112(OH)","v":12},{"x":"C4C4PO4","y":"N1112(OH)","v":12},{"x":"C4SO4","y":"N1112(OH)","v":12},{"x":"N(CN)2","y":"N1112(OH)","v":12},{"x":"C4F9CO2","y":"N1112(OH)","v":12},{"x":"CNpyr","y":"N1112(OH)","v":12},{"x":"BF4","y":"N1112(OH)","v":12},{"x":"C7H5N2","y":"N1112(OH)","v":12},{"x":"C8F17SO3","y":"N1112(OH)","v":6},{"x":"C4F9SO3","y":"N1112(OH)","v":12},{"x":"CF3SO3","y":"N1112(OH)","v":12},{"x":"CF4SO3","y":"N1112(OH)","v":12},{"x":"N(CF3SO2)2","y":"N1112(OH)","v":12},{"x":"PF6","y":"N1112(OH)","v":30},{"x":"N(C4F9SO2)2","y":"N1112(OH)","v":6},{"x":"N(C2F5SO2)2","y":"N1112(OH)","v":6},{"x":"(C2F5)3PF3","y":"N1112(OH)","v":6},
{"x":"C1CO2","y":"C8C1Im","v":6},{"x":"C1PO3","y":"C8C1Im","v":6},{"x":"C2PO3","y":"C8C1Im","v":6},{"x":"C2CO2","y":"C8C1Im","v":6},{"x":"C1C1PO4","y":"C8C1Im","v":6},{"x":"C4PO4","y":"C8C1Im","v":6},{"x":"C2C2PO4","y":"C8C1Im","v":6},{"x":"CSO3","y":"C8C1Im","v":6},{"x":"C2NO2","y":"C8C1Im","v":6},{"x":"C2SO4","y":"C8C1Im","v":6},{"x":"C3H3N2","y":"C8C1Im","v":6},{"x":"SCN","y":"C8C1Im","v":6},{"x":"C1SO4","y":"C8C1Im","v":6},{"x":"C2SO3","y":"C8C1Im","v":6},{"x":"C4C4PO4","y":"C8C1Im","v":6},{"x":"C4SO4","y":"C8C1Im","v":6},{"x":"N(CN)2","y":"C8C1Im","v":6},{"x":"C4F9CO2","y":"C8C1Im","v":6},{"x":"CNpyr","y":"C8C1Im","v":6},{"x":"BF4","y":"C8C1Im","v":6},{"x":"C7H5N2","y":"C8C1Im","v":6},{"x":"C8F17SO3","y":"C8C1Im","v":6},{"x":"C4F9SO3","y":"C8C1Im","v":6},{"x":"CF3SO3","y":"C8C1Im","v":6},{"x":"CF4SO3","y":"C8C1Im","v":6},{"x":"N(CF3SO2)2","y":"C8C1Im","v":6},{"x":"PF6","y":"C8C1Im","v":6},{"x":"N(C4F9SO2)2","y":"C8C1Im","v":6},{"x":"N(C2F5SO2)2","y":"C8C1Im","v":6},{"x":"(C2F5)3PF3","y":"C8C1Im","v":6},
{"x":"C1CO2","y":"C9C1Im","v":6},{"x":"C1PO3","y":"C9C1Im","v":6},{"x":"C2PO3","y":"C9C1Im","v":6},{"x":"C2CO2","y":"C9C1Im","v":6},{"x":"C1C1PO4","y":"C9C1Im","v":6},{"x":"C4PO4","y":"C9C1Im","v":6},{"x":"C2C2PO4","y":"C9C1Im","v":6},{"x":"CSO3","y":"C9C1Im","v":6},{"x":"C2NO2","y":"C9C1Im","v":6},{"x":"C2SO4","y":"C9C1Im","v":6},{"x":"C3H3N2","y":"C9C1Im","v":6},{"x":"SCN","y":"C9C1Im","v":6},{"x":"C1SO4","y":"C9C1Im","v":6},{"x":"C2SO3","y":"C9C1Im","v":6},{"x":"C4C4PO4","y":"C9C1Im","v":6},{"x":"C4SO4","y":"C9C1Im","v":6},{"x":"N(CN)2","y":"C9C1Im","v":6},{"x":"C4F9CO2","y":"C9C1Im","v":6},{"x":"CNpyr","y":"C9C1Im","v":6},{"x":"BF4","y":"C9C1Im","v":6},{"x":"C7H5N2","y":"C9C1Im","v":6},{"x":"C8F17SO3","y":"C9C1Im","v":6},{"x":"C4F9SO3","y":"C9C1Im","v":6},{"x":"CF3SO3","y":"C9C1Im","v":6},{"x":"CF4SO3","y":"C9C1Im","v":6},{"x":"N(CF3SO2)2","y":"C9C1Im","v":6},{"x":"PF6","y":"C9C1Im","v":6},{"x":"N(C4F9SO2)2","y":"C9C1Im","v":6},{"x":"N(C2F5SO2)2","y":"C9C1Im","v":6},{"x":"(C2F5)3PF3","y":"C9C1Im","v":6},
{"x":"C1CO2","y":"C6C1Im","v":6},{"x":"C1PO3","y":"C6C1Im","v":6},{"x":"C2PO3","y":"C6C1Im","v":6},{"x":"C2CO2","y":"C6C1Im","v":6},{"x":"C1C1PO4","y":"C6C1Im","v":6},{"x":"C4PO4","y":"C6C1Im","v":6},{"x":"C2C2PO4","y":"C6C1Im","v":6},{"x":"CSO3","y":"C6C1Im","v":6},{"x":"C2NO2","y":"C6C1Im","v":6},{"x":"C2SO4","y":"C6C1Im","v":6},{"x":"C3H3N2","y":"C6C1Im","v":6},{"x":"SCN","y":"C6C1Im","v":6},{"x":"C1SO4","y":"C6C1Im","v":6},{"x":"C2SO3","y":"C6C1Im","v":6},{"x":"C4C4PO4","y":"C6C1Im","v":6},{"x":"C4SO4","y":"C6C1Im","v":6},{"x":"N(CN)2","y":"C6C1Im","v":6},{"x":"C4F9CO2","y":"C6C1Im","v":6},{"x":"CNpyr","y":"C6C1Im","v":6},{"x":"BF4","y":"C6C1Im","v":6},{"x":"C7H5N2","y":"C6C1Im","v":6},{"x":"C8F17SO3","y":"C6C1Im","v":6},{"x":"C4F9SO3","y":"C6C1Im","v":6},{"x":"CF3SO3","y":"C6C1Im","v":6},{"x":"CF4SO3","y":"C6C1Im","v":6},{"x":"N(CF3SO2)2","y":"C6C1Im","v":6},{"x":"PF6","y":"C6C1Im","v":6},{"x":"N(C4F9SO2)2","y":"C6C1Im","v":6},{"x":"N(C2F5SO2)2","y":"C6C1Im","v":6},{"x":"(C2F5)3PF3","y":"C6C1Im","v":6},
{"x":"C1CO2","y":"C4C1Im","v":6},{"x":"C1PO3","y":"C4C1Im","v":6},{"x":"C2PO3","y":"C4C1Im","v":6},{"x":"C2CO2","y":"C4C1Im","v":6},{"x":"C1C1PO4","y":"C4C1Im","v":6},{"x":"C4PO4","y":"C4C1Im","v":6},{"x":"C2C2PO4","y":"C4C1Im","v":6},{"x":"CSO3","y":"C4C1Im","v":6},{"x":"C2NO2","y":"C4C1Im","v":6},{"x":"C2SO4","y":"C4C1Im","v":6},{"x":"C3H3N2","y":"C4C1Im","v":6},{"x":"SCN","y":"C4C1Im","v":6},{"x":"C1SO4","y":"C4C1Im","v":6},{"x":"C2SO3","y":"C4C1Im","v":6},{"x":"C4C4PO4","y":"C4C1Im","v":6},{"x":"C4SO4","y":"C4C1Im","v":6},{"x":"N(CN)2","y":"C4C1Im","v":6},{"x":"C4F9CO2","y":"C4C1Im","v":6},{"x":"CNpyr","y":"C4C1Im","v":6},{"x":"BF4","y":"C4C1Im","v":6},{"x":"C7H5N2","y":"C4C1Im","v":6},{"x":"C8F17SO3","y":"C4C1Im","v":6},{"x":"C4F9SO3","y":"C4C1Im","v":6},{"x":"CF3SO3","y":"C4C1Im","v":6},{"x":"CF4SO3","y":"C4C1Im","v":6},{"x":"N(CF3SO2)2","y":"C4C1Im","v":6},{"x":"PF6","y":"C4C1Im","v":6},{"x":"N(C4F9SO2)2","y":"C4C1Im","v":6},{"x":"N(C2F5SO2)2","y":"C4C1Im","v":6},{"x":"(C2F5)3PF3","y":"C4C1Im","v":6},
{"x":"C1CO2","y":"C4C2Im","v":6},{"x":"C1PO3","y":"C4C2Im","v":6},{"x":"C2PO3","y":"C4C2Im","v":6},{"x":"C2CO2","y":"C4C2Im","v":6},{"x":"C1C1PO4","y":"C4C2Im","v":6},{"x":"C4PO4","y":"C4C2Im","v":6},{"x":"C2C2PO4","y":"C4C2Im","v":6},{"x":"CSO3","y":"C4C2Im","v":6},{"x":"C2NO2","y":"C4C2Im","v":6},{"x":"C2SO4","y":"C4C2Im","v":6},{"x":"C3H3N2","y":"C4C2Im","v":6},{"x":"SCN","y":"C4C2Im","v":6},{"x":"C1SO4","y":"C4C2Im","v":6},{"x":"C2SO3","y":"C4C2Im","v":6},{"x":"C4C4PO4","y":"C4C2Im","v":6},{"x":"C4SO4","y":"C4C2Im","v":6},{"x":"N(CN)2","y":"C4C2Im","v":6},{"x":"C4F9CO2","y":"C4C2Im","v":6},{"x":"CNpyr","y":"C4C2Im","v":6},{"x":"BF4","y":"C4C2Im","v":6},{"x":"C7H5N2","y":"C4C2Im","v":6},{"x":"C8F17SO3","y":"C4C2Im","v":6},{"x":"C4F9SO3","y":"C4C2Im","v":6},{"x":"CF3SO3","y":"C4C2Im","v":6},{"x":"CF4SO3","y":"C4C2Im","v":6},{"x":"N(CF3SO2)2","y":"C4C2Im","v":6},{"x":"PF6","y":"C4C2Im","v":6},{"x":"N(C4F9SO2)2","y":"C4C2Im","v":6},{"x":"N(C2F5SO2)2","y":"C4C2Im","v":6},{"x":"(C2F5)3PF3","y":"C4C2Im","v":6},
{"x":"C1CO2","y":"C2C2SO4","v":6},{"x":"C1PO3","y":"C2C2SO4","v":6},{"x":"C2PO3","y":"C2C2SO4","v":6},{"x":"C2CO2","y":"C2C2SO4","v":6},{"x":"C1C1PO4","y":"C2C2SO4","v":6},{"x":"C4PO4","y":"C2C2SO4","v":6},{"x":"C2C2PO4","y":"C2C2SO4","v":6},{"x":"CSO3","y":"C2C2SO4","v":6},{"x":"C2NO2","y":"C2C2SO4","v":6},{"x":"C2SO4","y":"C2C2SO4","v":6},{"x":"C3H3N2","y":"C2C2SO4","v":6},{"x":"SCN","y":"C2C2SO4","v":6},{"x":"C1SO4","y":"C2C2SO4","v":6},{"x":"C2SO3","y":"C2C2SO4","v":6},{"x":"C4C4PO4","y":"C2C2SO4","v":6},{"x":"C4SO4","y":"C2C2SO4","v":6},{"x":"N(CN)2","y":"C2C2SO4","v":6},{"x":"C4F9CO2","y":"C2C2SO4","v":6},{"x":"CNpyr","y":"C2C2SO4","v":6},{"x":"BF4","y":"C2C2SO4","v":6},{"x":"C7H5N2","y":"C2C2SO4","v":6},{"x":"C8F17SO3","y":"C2C2SO4","v":6},{"x":"C4F9SO3","y":"C2C2SO4","v":6},{"x":"CF3SO3","y":"C2C2SO4","v":6},{"x":"CF4SO3","y":"C2C2SO4","v":6},{"x":"N(CF3SO2)2","y":"C2C2SO4","v":6},{"x":"PF6","y":"C2C2SO4","v":6},{"x":"N(C4F9SO2)2","y":"C2C2SO4","v":6},{"x":"N(C2F5SO2)2","y":"C2C2SO4","v":6},{"x":"(C2F5)3PF3","y":"C2C2SO4","v":6},
{"x":"C1CO2","y":"C4C4Im","v":6},{"x":"C1PO3","y":"C4C4Im","v":6},{"x":"C2PO3","y":"C4C4Im","v":6},{"x":"C2CO2","y":"C4C4Im","v":6},{"x":"C1C1PO4","y":"C4C4Im","v":6},{"x":"C4PO4","y":"C4C4Im","v":6},{"x":"C2C2PO4","y":"C4C4Im","v":6},{"x":"CSO3","y":"C4C4Im","v":6},{"x":"C2NO2","y":"C4C4Im","v":6},{"x":"C2SO4","y":"C4C4Im","v":6},{"x":"C3H3N2","y":"C4C4Im","v":6},{"x":"SCN","y":"C4C4Im","v":6},{"x":"C1SO4","y":"C4C4Im","v":6},{"x":"C2SO3","y":"C4C4Im","v":6},{"x":"C4C4PO4","y":"C4C4Im","v":6},{"x":"C4SO4","y":"C4C4Im","v":6},{"x":"N(CN)2","y":"C4C4Im","v":6},{"x":"C4F9CO2","y":"C4C4Im","v":6},{"x":"CNpyr","y":"C4C4Im","v":6},{"x":"BF4","y":"C4C4Im","v":6},{"x":"C7H5N2","y":"C4C4Im","v":6},{"x":"C8F17SO3","y":"C4C4Im","v":6},{"x":"C4F9SO3","y":"C4C4Im","v":6},{"x":"CF3SO3","y":"C4C4Im","v":6},{"x":"CF4SO3","y":"C4C4Im","v":6},{"x":"N(CF3SO2)2","y":"C4C4Im","v":6},{"x":"PF6","y":"C4C4Im","v":6},{"x":"N(C4F9SO2)2","y":"C4C4Im","v":6},{"x":"N(C2F5SO2)2","y":"C4C4Im","v":6},{"x":"(C2F5)3PF3","y":"C4C4Im","v":6},
{"x":"C1CO2","y":"C2C1Im","v":6},{"x":"C1PO3","y":"C2C1Im","v":6},{"x":"C2PO3","y":"C2C1Im","v":6},{"x":"C2CO2","y":"C2C1Im","v":6},{"x":"C1C1PO4","y":"C2C1Im","v":6},{"x":"C4PO4","y":"C2C1Im","v":6},{"x":"C2C2PO4","y":"C2C1Im","v":6},{"x":"CSO3","y":"C2C1Im","v":6},{"x":"C2NO2","y":"C2C1Im","v":6},{"x":"C2SO4","y":"C2C1Im","v":6},{"x":"C3H3N2","y":"C2C1Im","v":6},{"x":"SCN","y":"C2C1Im","v":6},{"x":"C1SO4","y":"C2C1Im","v":6},{"x":"C2SO3","y":"C2C1Im","v":6},{"x":"C4C4PO4","y":"C2C1Im","v":6},{"x":"C4SO4","y":"C2C1Im","v":6},{"x":"N(CN)2","y":"C2C1Im","v":12},{"x":"C4F9CO2","y":"C2C1Im","v":6},{"x":"CNpyr","y":"C2C1Im","v":12},{"x":"BF4","y":"C2C1Im","v":6},{"x":"C7H5N2","y":"C2C1Im","v":12},{"x":"C8F17SO3","y":"C2C1Im","v":6},{"x":"C4F9SO3","y":"C2C1Im","v":6},{"x":"CF3SO3","y":"C2C1Im","v":6},{"x":"CF4SO3","y":"C2C1Im","v":6},{"x":"N(CF3SO2)2","y":"C2C1Im","v":6},{"x":"PF6","y":"C2C1Im","v":12},{"x":"N(C4F9SO2)2","y":"C2C1Im","v":6},{"x":"N(C2F5SO2)2","y":"C2C1Im","v":6},{"x":"(C2F5)3PF3","y":"C2C1Im","v":6},
{"x":"C1CO2","y":"C2C1py","v":3},{"x":"C1PO3","y":"C2C1py","v":3},{"x":"C2PO3","y":"C2C1py","v":6},{"x":"C2CO2","y":"C2C1py","v":6},{"x":"C1C1PO4","y":"C2C1py","v":3},{"x":"C4PO4","y":"C2C1py","v":6},{"x":"C2C2PO4","y":"C2C1py","v":6},{"x":"CSO3","y":"C2C1py","v":3},{"x":"C2NO2","y":"C2C1py","v":6},{"x":"C2SO4","y":"C2C1py","v":6},{"x":"C3H3N2","y":"C2C1py","v":6},{"x":"SCN","y":"C2C1py","v":6},{"x":"C1SO4","y":"C2C1py","v":6},{"x":"C2SO3","y":"C2C1py","v":6},{"x":"C4C4PO4","y":"C2C1py","v":6},{"x":"C4SO4","y":"C2C1py","v":6},{"x":"N(CN)2","y":"C2C1py","v":6},{"x":"C4F9CO2","y":"C2C1py","v":6},{"x":"CNpyr","y":"C2C1py","v":6},{"x":"BF4","y":"C2C1py","v":6},{"x":"C7H5N2","y":"C2C1py","v":6},{"x":"C8F17SO3","y":"C2C1py","v":6},{"x":"C4F9SO3","y":"C2C1py","v":6},{"x":"CF3SO3","y":"C2C1py","v":6},{"x":"CF4SO3","y":"C2C1py","v":6},{"x":"N(CF3SO2)2","y":"C2C1py","v":6},{"x":"PF6","y":"C2C1py","v":6},{"x":"N(C4F9SO2)2","y":"C2C1py","v":6},{"x":"N(C2F5SO2)2","y":"C2C1py","v":6},{"x":"(C2F5)3PF3","y":"C2C1py","v":6},
{"x":"C1CO2","y":"C8C1pyr","v":3},{"x":"C1PO3","y":"C8C1pyr","v":3},{"x":"C2PO3","y":"C8C1pyr","v":3},{"x":"C2CO2","y":"C8C1pyr","v":3},{"x":"C1C1PO4","y":"C8C1pyr","v":3},{"x":"C4PO4","y":"C8C1pyr","v":3},{"x":"C2C2PO4","y":"C8C1pyr","v":3},{"x":"CSO3","y":"C8C1pyr","v":3},{"x":"C2NO2","y":"C8C1pyr","v":3},{"x":"C2SO4","y":"C8C1pyr","v":3},{"x":"C3H3N2","y":"C8C1pyr","v":3},{"x":"SCN","y":"C8C1pyr","v":6},{"x":"C1SO4","y":"C8C1pyr","v":3},{"x":"C2SO3","y":"C8C1pyr","v":3},{"x":"C4C4PO4","y":"C8C1pyr","v":3},{"x":"C4SO4","y":"C8C1pyr","v":6},{"x":"N(CN)2","y":"C8C1pyr","v":6},{"x":"C4F9CO2","y":"C8C1pyr","v":6},{"x":"CNpyr","y":"C8C1pyr","v":6},{"x":"BF4","y":"C8C1pyr","v":6},{"x":"C7H5N2","y":"C8C1pyr","v":6},{"x":"C8F17SO3","y":"C8C1pyr","v":6},{"x":"C4F9SO3","y":"C8C1pyr","v":6},{"x":"CF3SO3","y":"C8C1pyr","v":6},{"x":"CF4SO3","y":"C8C1pyr","v":6},{"x":"N(CF3SO2)2","y":"C8C1pyr","v":6},{"x":"PF6","y":"C8C1pyr","v":6},{"x":"N(C4F9SO2)2","y":"C8C1pyr","v":6},{"x":"N(C2F5SO2)2","y":"C8C1pyr","v":6},{"x":"(C2F5)3PF3","y":"C8C1pyr","v":6},
{"x":"C1CO2","y":"C1C1pyr","v":3},{"x":"C1PO3","y":"C1C1pyr","v":3},{"x":"C2PO3","y":"C1C1pyr","v":3},{"x":"C2CO2","y":"C1C1pyr","v":3},{"x":"C1C1PO4","y":"C1C1pyr","v":3},{"x":"C4PO4","y":"C1C1pyr","v":3},{"x":"C2C2PO4","y":"C1C1pyr","v":3},{"x":"CSO3","y":"C1C1pyr","v":3},{"x":"C2NO2","y":"C1C1pyr","v":3},{"x":"C2SO4","y":"C1C1pyr","v":3},{"x":"C3H3N2","y":"C1C1pyr","v":3},{"x":"SCN","y":"C1C1pyr","v":3},{"x":"C1SO4","y":"C1C1pyr","v":3},{"x":"C2SO3","y":"C1C1pyr","v":3},{"x":"C4C4PO4","y":"C1C1pyr","v":6},{"x":"C4SO4","y":"C1C1pyr","v":6},{"x":"N(CN)2","y":"C1C1pyr","v":6},{"x":"C4F9CO2","y":"C1C1pyr","v":6},{"x":"CNpyr","y":"C1C1pyr","v":6},{"x":"BF4","y":"C1C1pyr","v":6},{"x":"C7H5N2","y":"C1C1pyr","v":6},{"x":"C8F17SO3","y":"C1C1pyr","v":6},{"x":"C4F9SO3","y":"C1C1pyr","v":6},{"x":"CF3SO3","y":"C1C1pyr","v":6},{"x":"CF4SO3","y":"C1C1pyr","v":6},{"x":"N(CF3SO2)2","y":"C1C1pyr","v":6},{"x":"PF6","y":"C1C1pyr","v":6},{"x":"N(C4F9SO2)2","y":"C1C1pyr","v":6},{"x":"N(C2F5SO2)2","y":"C1C1pyr","v":6},{"x":"(C2F5)3PF3","y":"C1C1pyr","v":6},
{"x":"C1CO2","y":"C2C1pyr","v":3},{"x":"C1PO3","y":"C2C1pyr","v":3},{"x":"C2PO3","y":"C2C1pyr","v":3},{"x":"C2CO2","y":"C2C1pyr","v":3},{"x":"C1C1PO4","y":"C2C1pyr","v":3},{"x":"C4PO4","y":"C2C1pyr","v":3},{"x":"C2C2PO4","y":"C2C1pyr","v":3},{"x":"CSO3","y":"C2C1pyr","v":3},{"x":"C2NO2","y":"C2C1pyr","v":3},{"x":"C2SO4","y":"C2C1pyr","v":3},{"x":"C3H3N2","y":"C2C1pyr","v":3},{"x":"SCN","y":"C2C1pyr","v":3},{"x":"C1SO4","y":"C2C1pyr","v":3},{"x":"C2SO3","y":"C2C1pyr","v":3},{"x":"C4C4PO4","y":"C2C1pyr","v":3},{"x":"C4SO4","y":"C2C1pyr","v":3},{"x":"N(CN)2","y":"C2C1pyr","v":3},{"x":"C4F9CO2","y":"C2C1pyr","v":6},{"x":"CNpyr","y":"C2C1pyr","v":6},{"x":"BF4","y":"C2C1pyr","v":6},{"x":"C7H5N2","y":"C2C1pyr","v":6},{"x":"C8F17SO3","y":"C2C1pyr","v":6},{"x":"C4F9SO3","y":"C2C1pyr","v":6},{"x":"CF3SO3","y":"C2C1pyr","v":6},{"x":"CF4SO3","y":"C2C1pyr","v":6},{"x":"N(CF3SO2)2","y":"C2C1pyr","v":6},{"x":"PF6","y":"C2C1pyr","v":6},{"x":"N(C4F9SO2)2","y":"C2C1pyr","v":6},{"x":"N(C2F5SO2)2","y":"C2C1pyr","v":6},{"x":"(C2F5)3PF3","y":"C2C1pyr","v":6},
{"x":"C1CO2","y":"C4C1pyr","v":3},{"x":"C1PO3","y":"C4C1pyr","v":3},{"x":"C2PO3","y":"C4C1pyr","v":3},{"x":"C2CO2","y":"C4C1pyr","v":3},{"x":"C1C1PO4","y":"C4C1pyr","v":3},{"x":"C4PO4","y":"C4C1pyr","v":3},{"x":"C2C2PO4","y":"C4C1pyr","v":3},{"x":"CSO3","y":"C4C1pyr","v":3},{"x":"C2NO2","y":"C4C1pyr","v":3},{"x":"C2SO4","y":"C4C1pyr","v":3},{"x":"C3H3N2","y":"C4C1pyr","v":3},{"x":"SCN","y":"C4C1pyr","v":3},{"x":"C1SO4","y":"C4C1pyr","v":3},{"x":"C2SO3","y":"C4C1pyr","v":3},{"x":"C4C4PO4","y":"C4C1pyr","v":3},{"x":"C4SO4","y":"C4C1pyr","v":3},{"x":"N(CN)2","y":"C4C1pyr","v":3},{"x":"C4F9CO2","y":"C4C1pyr","v":6},{"x":"CNpyr","y":"C4C1pyr","v":6},{"x":"BF4","y":"C4C1pyr","v":6},{"x":"C7H5N2","y":"C4C1pyr","v":6},{"x":"C8F17SO3","y":"C4C1pyr","v":6},{"x":"C4F9SO3","y":"C4C1pyr","v":6},{"x":"CF3SO3","y":"C4C1pyr","v":6},{"x":"CF4SO3","y":"C4C1pyr","v":6},{"x":"N(CF3SO2)2","y":"C4C1pyr","v":6},{"x":"PF6","y":"C4C1pyr","v":6},{"x":"N(C4F9SO2)2","y":"C4C1pyr","v":6},{"x":"N(C2F5SO2)2","y":"C4C1pyr","v":6},{"x":"(C2F5)3PF3","y":"C4C1pyr","v":6},
{"x":"C1CO2","y":"S444","v":3},{"x":"C1PO3","y":"S444","v":3},{"x":"C2PO3","y":"S444","v":3},{"x":"C2CO2","y":"S444","v":3},{"x":"C1C1PO4","y":"S444","v":3},{"x":"C4PO4","y":"S444","v":3},{"x":"C2C2PO4","y":"S444","v":3},{"x":"CSO3","y":"S444","v":3},{"x":"C2NO2","y":"S444","v":3},{"x":"C2SO4","y":"S444","v":3},{"x":"C3H3N2","y":"S444","v":3},{"x":"SCN","y":"S444","v":3},{"x":"C1SO4","y":"S444","v":3},{"x":"C2SO3","y":"S444","v":3},{"x":"C4C4PO4","y":"S444","v":3},{"x":"C4SO4","y":"S444","v":3},{"x":"N(CN)2","y":"S444","v":3},{"x":"C4F9CO2","y":"S444","v":3},{"x":"CNpyr","y":"S444","v":6},{"x":"BF4","y":"S444","v":6},{"x":"C7H5N2","y":"S444","v":6},{"x":"C8F17SO3","y":"S444","v":3},{"x":"C4F9SO3","y":"S444","v":6},{"x":"CF3SO3","y":"S444","v":6},{"x":"CF4SO3","y":"S444","v":6},{"x":"N(CF3SO2)2","y":"S444","v":6},{"x":"PF6","y":"S444","v":6},{"x":"N(C4F9SO2)2","y":"S444","v":6},{"x":"N(C2F5SO2)2","y":"S444","v":6},{"x":"(C2F5)3PF3","y":"S444","v":6},
{"x":"C1CO2","y":"P6661","v":3},{"x":"C1PO3","y":"P6661","v":3},{"x":"C2PO3","y":"P6661","v":3},{"x":"C2CO2","y":"P6661","v":3},{"x":"C1C1PO4","y":"P6661","v":3},{"x":"C4PO4","y":"P6661","v":3},{"x":"C2C2PO4","y":"P6661","v":3},{"x":"CSO3","y":"P6661","v":3},{"x":"C2NO2","y":"P6661","v":3},{"x":"C2SO4","y":"P6661","v":3},{"x":"C3H3N2","y":"P6661","v":3},{"x":"SCN","y":"P6661","v":3},{"x":"C1SO4","y":"P6661","v":3},{"x":"C2SO3","y":"P6661","v":3},{"x":"C4C4PO4","y":"P6661","v":3},{"x":"C4SO4","y":"P6661","v":3},{"x":"N(CN)2","y":"P6661","v":3},{"x":"C4F9CO2","y":"P6661","v":3},{"x":"CNpyr","y":"P6661","v":3},{"x":"BF4","y":"P6661","v":6},{"x":"C7H5N2","y":"P6661","v":3},{"x":"C8F17SO3","y":"P6661","v":6},{"x":"C4F9SO3","y":"P6661","v":6},{"x":"CF3SO3","y":"P6661","v":6},{"x":"CF4SO3","y":"P6661","v":6},{"x":"N(CF3SO2)2","y":"P6661","v":6},{"x":"PF6","y":"P6661","v":6},{"x":"N(C4F9SO2)2","y":"P6661","v":6},{"x":"N(C2F5SO2)2","y":"P6661","v":6},{"x":"(C2F5)3PF3","y":"P6661","v":6},
{"x":"C1CO2","y":"P66614","v":3},{"x":"C1PO3","y":"P66614","v":3},{"x":"C2PO3","y":"P66614","v":3},{"x":"C2CO2","y":"P66614","v":3},{"x":"C1C1PO4","y":"P66614","v":3},{"x":"C4PO4","y":"P66614","v":3},{"x":"C2C2PO4","y":"P66614","v":3},{"x":"CSO3","y":"P66614","v":3},{"x":"C2NO2","y":"P66614","v":3},{"x":"C2SO4","y":"P66614","v":3},{"x":"C3H3N2","y":"P66614","v":3},{"x":"SCN","y":"P66614","v":3},{"x":"C1SO4","y":"P66614","v":3},{"x":"C2SO3","y":"P66614","v":3},{"x":"C4C4PO4","y":"P66614","v":3},{"x":"C4SO4","y":"P66614","v":3},{"x":"N(CN)2","y":"P66614","v":3},{"x":"C4F9CO2","y":"P66614","v":3},{"x":"CNpyr","y":"P66614","v":3},{"x":"BF4","y":"P66614","v":6},{"x":"C7H5N2","y":"P66614","v":3},{"x":"C8F17SO3","y":"P66614","v":6},{"x":"C4F9SO3","y":"P66614","v":6},{"x":"CF3SO3","y":"P66614","v":6},{"x":"CF4SO3","y":"P66614","v":6},{"x":"N(CF3SO2)2","y":"P66614","v":6},{"x":"PF6","y":"P66614","v":6},{"x":"N(C4F9SO2)2","y":"P66614","v":6},{"x":"N(C2F5SO2)2","y":"P66614","v":6},{"x":"(C2F5)3PF3","y":"P66614","v":6},
{"x":"C1CO2","y":"P2228","v":3},{"x":"C1PO3","y":"P2228","v":3},{"x":"C2PO3","y":"P2228","v":3},{"x":"C2CO2","y":"P2228","v":3},{"x":"C1C1PO4","y":"P2228","v":3},{"x":"C4PO4","y":"P2228","v":3},{"x":"C2C2PO4","y":"P2228","v":3},{"x":"CSO3","y":"P2228","v":3},{"x":"C2NO2","y":"P2228","v":3},{"x":"C2SO4","y":"P2228","v":3},{"x":"C3H3N2","y":"P2228","v":3},{"x":"SCN","y":"P2228","v":3},{"x":"C1SO4","y":"P2228","v":3},{"x":"C2SO3","y":"P2228","v":3},{"x":"C4C4PO4","y":"P2228","v":3},{"x":"C4SO4","y":"P2228","v":3},{"x":"N(CN)2","y":"P2228","v":3},{"x":"C4F9CO2","y":"P2228","v":3},{"x":"CNpyr","y":"P2228","v":3},{"x":"BF4","y":"P2228","v":3},{"x":"C7H5N2","y":"P2228","v":6},{"x":"C8F17SO3","y":"P2228","v":3},{"x":"C4F9SO3","y":"P2228","v":3},{"x":"CF3SO3","y":"P2228","v":3},{"x":"CF4SO3","y":"P2228","v":3},{"x":"N(CF3SO2)2","y":"P2228","v":6},{"x":"PF6","y":"P2228","v":6},{"x":"N(C4F9SO2)2","y":"P2228","v":6},{"x":"N(C2F5SO2)2","y":"P2228","v":6},{"x":"(C2F5)3PF3","y":"P2228","v":6},
{"x":"C1CO2","y":"C4C2pyr","v":1.2},{"x":"C1PO3","y":"C4C2pyr","v":1.2},{"x":"C2PO3","y":"C4C2pyr","v":3},{"x":"C2CO2","y":"C4C2pyr","v":3},{"x":"C1C1PO4","y":"C4C2pyr","v":3},{"x":"C4PO4","y":"C4C2pyr","v":3},{"x":"C2C2PO4","y":"C4C2pyr","v":3},{"x":"CSO3","y":"C4C2pyr","v":3},{"x":"C2NO2","y":"C4C2pyr","v":3},{"x":"C2SO4","y":"C4C2pyr","v":3},{"x":"C3H3N2","y":"C4C2pyr","v":3},{"x":"SCN","y":"C4C2pyr","v":3},{"x":"C1SO4","y":"C4C2pyr","v":3},{"x":"C2SO3","y":"C4C2pyr","v":3},{"x":"C4C4PO4","y":"C4C2pyr","v":3},{"x":"C4SO4","y":"C4C2pyr","v":3},{"x":"N(CN)2","y":"C4C2pyr","v":3},{"x":"C4F9CO2","y":"C4C2pyr","v":3},{"x":"CNpyr","y":"C4C2pyr","v":3},{"x":"BF4","y":"C4C2pyr","v":3},{"x":"C7H5N2","y":"C4C2pyr","v":3},{"x":"C8F17SO3","y":"C4C2pyr","v":3},{"x":"C4F9SO3","y":"C4C2pyr","v":3},{"x":"CF3SO3","y":"C4C2pyr","v":3},{"x":"CF4SO3","y":"C4C2pyr","v":6},{"x":"N(CF3SO2)2","y":"C4C2pyr","v":6},{"x":"PF6","y":"C4C2pyr","v":6},{"x":"N(C4F9SO2)2","y":"C4C2pyr","v":6},{"x":"N(C2F5SO2)2","y":"C4C2pyr","v":6},{"x":"(C2F5)3PF3","y":"C4C2pyr","v":6},
{"x":"C1CO2","y":"P4444","v":1.2},{"x":"C1PO3","y":"P4444","v":1.2},{"x":"C2PO3","y":"P4444","v":1.2},{"x":"C2CO2","y":"P4444","v":3},{"x":"C1C1PO4","y":"P4444","v":3},{"x":"C4PO4","y":"P4444","v":3},{"x":"C2C2PO4","y":"P4444","v":3},{"x":"CSO3","y":"P4444","v":3},{"x":"C2NO2","y":"P4444","v":3},{"x":"C2SO4","y":"P4444","v":3},{"x":"C3H3N2","y":"P4444","v":3},{"x":"SCN","y":"P4444","v":3},{"x":"C1SO4","y":"P4444","v":3},{"x":"C2SO3","y":"P4444","v":3},{"x":"C4C4PO4","y":"P4444","v":3},{"x":"C4SO4","y":"P4444","v":3},{"x":"N(CN)2","y":"P4444","v":3},{"x":"C4F9CO2","y":"P4444","v":3},{"x":"CNpyr","y":"P4444","v":3},{"x":"BF4","y":"P4444","v":3},{"x":"C7H5N2","y":"P4444","v":3},{"x":"C8F17SO3","y":"P4444","v":3},{"x":"C4F9SO3","y":"P4444","v":3},{"x":"CF3SO3","y":"P4444","v":3},{"x":"CF4SO3","y":"P4444","v":3},{"x":"N(CF3SO2)2","y":"P4444","v":6},{"x":"PF6","y":"P4444","v":6},{"x":"N(C4F9SO2)2","y":"P4444","v":6},{"x":"N(C2F5SO2)2","y":"P4444","v":6},{"x":"(C2F5)3PF3","y":"P4444","v":6},
{"x":"C1CO2","y":"P2444","v":1.2},{"x":"C1PO3","y":"P2444","v":1.2},{"x":"C2PO3","y":"P2444","v":1.2},{"x":"C2CO2","y":"P2444","v":1.2},{"x":"C1C1PO4","y":"P2444","v":3},{"x":"C4PO4","y":"P2444","v":3},{"x":"C2C2PO4","y":"P2444","v":3},{"x":"CSO3","y":"P2444","v":3},{"x":"C2NO2","y":"P2444","v":3},{"x":"C2SO4","y":"P2444","v":3},{"x":"C3H3N2","y":"P2444","v":3},{"x":"SCN","y":"P2444","v":3},{"x":"C1SO4","y":"P2444","v":3},{"x":"C2SO3","y":"P2444","v":3},{"x":"C4C4PO4","y":"P2444","v":3},{"x":"C4SO4","y":"P2444","v":3},{"x":"N(CN)2","y":"P2444","v":3},{"x":"C4F9CO2","y":"P2444","v":3},{"x":"CNpyr","y":"P2444","v":3},{"x":"BF4","y":"P2444","v":3},{"x":"C7H5N2","y":"P2444","v":3},{"x":"C8F17SO3","y":"P2444","v":3},{"x":"C4F9SO3","y":"P2444","v":3},{"x":"CF3SO3","y":"P2444","v":3},{"x":"CF4SO3","y":"P2444","v":3},{"x":"N(CF3SO2)2","y":"P2444","v":6},{"x":"PF6","y":"P2444","v":6},{"x":"N(C4F9SO2)2","y":"P2444","v":6},{"x":"N(C2F5SO2)2","y":"P2444","v":6},{"x":"(C2F5)3PF3","y":"P2444","v":6},
{"x":"C1CO2","y":"N4444","v":1.2},{"x":"C1PO3","y":"N4444","v":1.2},{"x":"C2PO3","y":"N4444","v":1.2},{"x":"C2CO2","y":"N4444","v":1.2},{"x":"C1C1PO4","y":"N4444","v":1.2},{"x":"C4PO4","y":"N4444","v":1.2},{"x":"C2C2PO4","y":"N4444","v":3},{"x":"CSO3","y":"N4444","v":3},{"x":"C2NO2","y":"N4444","v":3},{"x":"C2SO4","y":"N4444","v":3},{"x":"C3H3N2","y":"N4444","v":3},{"x":"SCN","y":"N4444","v":3},{"x":"C1SO4","y":"N4444","v":3},{"x":"C2SO3","y":"N4444","v":3},{"x":"C4C4PO4","y":"N4444","v":3},{"x":"C4SO4","y":"N4444","v":3},{"x":"N(CN)2","y":"N4444","v":3},{"x":"C4F9CO2","y":"N4444","v":3},{"x":"CNpyr","y":"N4444","v":3},{"x":"BF4","y":"N4444","v":3},{"x":"C7H5N2","y":"N4444","v":3},{"x":"C8F17SO3","y":"N4444","v":3},{"x":"C4F9SO3","y":"N4444","v":3},{"x":"CF3SO3","y":"N4444","v":3},{"x":"CF4SO3","y":"N4444","v":3},{"x":"N(CF3SO2)2","y":"N4444","v":6},{"x":"PF6","y":"N4444","v":6},{"x":"N(C4F9SO2)2","y":"N4444","v":6},{"x":"N(C2F5SO2)2","y":"N4444","v":6},{"x":"(C2F5)3PF3","y":"N4444","v":6},
{"x":"C1CO2","y":"P2222","v":1.2},{"x":"C1PO3","y":"P2222","v":1.2},{"x":"C2PO3","y":"P2222","v":1.2},{"x":"C2CO2","y":"P2222","v":1.2},{"x":"C1C1PO4","y":"P2222","v":1.2},{"x":"C4PO4","y":"P2222","v":1.2},{"x":"C2C2PO4","y":"P2222","v":1.2},{"x":"CSO3","y":"P2222","v":1.2},{"x":"C2NO2","y":"P2222","v":1.2},{"x":"C2SO4","y":"P2222","v":3},{"x":"C3H3N2","y":"P2222","v":3},{"x":"SCN","y":"P2222","v":3},{"x":"C1SO4","y":"P2222","v":3},{"x":"C2SO3","y":"P2222","v":3},{"x":"C4C4PO4","y":"P2222","v":3},{"x":"C4SO4","y":"P2222","v":3},{"x":"N(CN)2","y":"P2222","v":3},{"x":"C4F9CO2","y":"P2222","v":3},{"x":"CNpyr","y":"P2222","v":3},{"x":"BF4","y":"P2222","v":3},{"x":"C7H5N2","y":"P2222","v":3},{"x":"C8F17SO3","y":"P2222","v":3},{"x":"C4F9SO3","y":"P2222","v":3},{"x":"CF3SO3","y":"P2222","v":3},{"x":"CF4SO3","y":"P2222","v":3},{"x":"N(CF3SO2)2","y":"P2222","v":6},{"x":"PF6","y":"P2222","v":6},{"x":"N(C4F9SO2)2","y":"P2222","v":6},{"x":"N(C2F5SO2)2","y":"P2222","v":6},{"x":"(C2F5)3PF3","y":"P2222","v":6}
]},
"vconcat":[
{"resolve":{"scale":{"color":"independent","stroke":"independent"}},"spacing":7,"hconcat":[
{"width":622,"height":544,
"title":{"text":"a)","anchor":"start","baseline":"bottom","frame":"group","offset":-13.5,"dx":0},
"resolve":{"axis":{"x":"independent","y":"independent"}},
"layer":[
{"data":{"name":"a"},"mark":{"type":"rect","clip":true,"strokeWidth":0.7},
"encoding":{
"x":{"field":"x","type":"nominal","scale":{"type":"band","domain":["C4PO4","C1PO3","C2PO3","C2C2PO4","C2NO2","C4C4PO4","CSO3","C1CO2","C1C1PO4","C3H3N2","C7H5N2","C8F17SO3","C4F9CO2","C2SO3","CF3CO2","C4SO4","C2SO4","C1SO4","C4F9SO3","N(C4F9SO2)2","SCN","CF3SO3","N(C2F5SO2)2","BF4","N(CF3SO2)2","CNpyr","C4N3","PF6"],"range":[-11.52,633.52],"paddingInner":0,"paddingOuter":0},
"axis":{"orient":"bottom","title":"Anions","labelAngle":-90,"tickSize":8,"labelPadding":2,"minExtent":75,"maxExtent":75,"titlePadding":3,"titleX":339,
"labelExpr":"'[' + replace(replace(replace(replace(replace(replace(replace(replace(replace(datum.value,regexp('1','g'),'₁'),regexp('2','g'),'₂'),regexp('3','g'),'₃'),regexp('4','g'),'₄'),regexp('5','g'),'₅'),regexp('6','g'),'₆'),regexp('7','g'),'₇'),regexp('8','g'),'₈'),regexp('9','g'),'₉') + ']'",
"labelColor":{"condition":[{"test":"indexof(['C1CO2','C4F9CO2','C4F9SO3','CF3SO3','N(C2F5SO2)2','N(CF3SO2)2'], datum.value) >= 0","value":"#ff0000"},{"test":"indexof(['C2C2PO4','C2NO2','CNpyr'], datum.value) >= 0","value":"#0000ff"}],"value":"black"}}},
"y":{"field":"y","type":"nominal","scale":{"type":"band","domain":["C9C1Im","C9C1pyr","C1Im","N1112(OH)","C4pyr","C8pyr","C1py","C2C3Im","S444","C6C1Im","C2C1Im","C8H4F13Im","C9py","C4C1Im","C2C1py","C8C1Im","C1C4py","C9C9Im","P8888","P2228","P4444","P66614","P2222","P2444"],"range":[-11.83,555.83],"paddingInner":0,"paddingOuter":0},
"axis":{"orient":"left","title":"Cations","tickSize":8,"labelPadding":2,"minExtent":92,"maxExtent":92,"titlePadding":6,
"labelExpr":"'[' + replace(replace(replace(replace(replace(replace(replace(replace(replace(datum.value,regexp('1','g'),'₁'),regexp('2','g'),'₂'),regexp('3','g'),'₃'),regexp('4','g'),'₄'),regexp('5','g'),'₅'),regexp('6','g'),'₆'),regexp('7','g'),'₇'),regexp('8','g'),'₈'),regexp('9','g'),'₉') + ']'",
"labelColor":{"condition":[{"test":"indexof(['C2C1Im','C8H4F13Im','C2C1py','C8C1Im'], datum.value) >= 0","value":"#ff0000"},{"test":"indexof(['P66614','P2444'], datum.value) >= 0","value":"#0000ff"}],"value":"black"}}},
"color":{"field":"v","type":"quantitative","scale":{"type":"threshold","domain":[0.8,3,7,8,20],"range":["#e8e8e8","#c0c0c0","#808080","#404040","#202020","#000000"]},"legend":null},
"stroke":{"field":"v","type":"quantitative","scale":{"type":"threshold","domain":[0.8,3,7,8,20],"range":["#e8e8e8","#c0c0c0","#808080","#404040","#202020","#000000"]},"legend":null}}},
{"data":{"name":"ta1"},"mark":{"type":"text","fontSize":15,"fontWeight":"bold","font":"Liberation Serif","dx":-3,"dy":-2,"baseline":"middle"},
"encoding":{
"x":{"field":"x","type":"nominal","axis":{"orient":"bottom","labels":false,"title":null,"tickSize":4,"bandPosition":0,"values":["C1PO3","C2PO3","C2C2PO4","C2NO2","C4C4PO4","CSO3","C1CO2","C1C1PO4","C3H3N2","C7H5N2","C8F17SO3","C4F9CO2","C2SO3","CF3CO2","C4SO4","C2SO4","C1SO4","C4F9SO3","N(C4F9SO2)2","SCN","CF3SO3","N(C2F5SO2)2","BF4","N(CF3SO2)2","CNpyr","C4N3","PF6"]}},
"y":{"field":"y","type":"nominal","axis":{"orient":"left","labels":false,"title":null,"tickSize":4,"bandPosition":0,"values":["C9C1pyr","C1Im","N1112(OH)","C4pyr","C8pyr","C1py","C2C3Im","S444","C6C1Im","C2C1Im","C8H4F13Im","C9py","C4C1Im","C2C1py","C8C1Im","C1C4py","C9C9Im","P8888","P2228","P4444","P66614","P2222","P2444"]}},
"text":{"field":"t"}}},
{"data":{"name":"ta2"},"mark":{"type":"text","fontSize":15,"fontWeight":"bold","font":"Liberation Serif","dx":12,"dy":-7,"baseline":"middle"},
"encoding":{"x":{"field":"x","type":"nominal","axis":null},"y":{"field":"y","type":"nominal","axis":null},"text":{"field":"t"}}}
]},
{"width":73,"height":284,"view":{"stroke":"#d0d0d0","strokeWidth":1},
"data":{"name":"la"},"mark":"rect",
"encoding":{
"y":{"field":"cls","type":"nominal","sort":null,"scale":{"paddingInner":0,"paddingOuter":0},
"axis":{"orient":"right","bandPosition":1,"ticks":false,"domain":false,"labelPadding":4,"title":null,"labelFontSize":13,
"labelExpr":"indexof(datum.value,'>')==0 ? '' : (indexof(datum.value,'<')==0 ? slice(datum.value,1) : slice(datum.value, indexof(datum.value,'-')+1))"}},
"color":{"field":"v","type":"quantitative","scale":{"type":"threshold","domain":[0.8,3,7,8,20],"range":["#e8e8e8","#c0c0c0","#808080","#404040","#202020","#000000"]},"legend":null}}}
]},
{"resolve":{"scale":{"color":"independent","stroke":"independent"}},"spacing":3.5,"hconcat":[
{"width":620,"height":543,
"title":{"text":"b)","anchor":"start","baseline":"bottom","frame":"group","offset":-12,"dx":-6},
"resolve":{"axis":{"x":"independent","y":"independent"}},
"layer":[
{"data":{"name":"b"},"mark":{"type":"rect","clip":true,"strokeWidth":0.7},
"encoding":{
"x":{"field":"x","type":"nominal","scale":{"type":"band","domain":["C1CO2","C1PO3","C2PO3","C2CO2","C1C1PO4","C4PO4","C2C2PO4","CSO3","C2NO2","C2SO4","C3H3N2","SCN","C1SO4","C2SO3","C4C4PO4","C4SO4","N(CN)2","C4F9CO2","CNpyr","BF4","C7H5N2","C8F17SO3","C4F9SO3","CF3SO3","CF4SO3","N(CF3SO2)2","PF6","N(C4F9SO2)2","N(C2F5SO2)2","(C2F5)3PF3"],"range":[-10.69,630.69],"paddingInner":0,"paddingOuter":0},
"axis":{"orient":"bottom","title":"Anions","labelAngle":-90,"tickSize":8,"labelPadding":2,"minExtent":88,"maxExtent":88,"titlePadding":2,
"labelExpr":"'[' + replace(replace(replace(replace(replace(replace(replace(replace(replace(datum.value,regexp('1','g'),'₁'),regexp('2','g'),'₂'),regexp('3','g'),'₃'),regexp('4','g'),'₄'),regexp('5','g'),'₅'),regexp('6','g'),'₆'),regexp('7','g'),'₇'),regexp('8','g'),'₈'),regexp('9','g'),'₉') + ']'",
"labelColor":{"condition":[{"test":"indexof(['C1CO2','C4F9CO2','C4F9SO3','CF3SO3','N(C2F5SO2)2','N(CF3SO2)2'], datum.value) >= 0","value":"#ff0000"},{"test":"indexof(['C2C2PO4','C2NO2','CNpyr'], datum.value) >= 0","value":"#0000ff"}],"value":"black"}}},
"y":{"field":"y","type":"nominal","scale":{"type":"band","domain":["N2HHH","C8H4F13Im","C2Im","C8pyr","C2C1(OH)Im","N1112(OH)","C8C1Im","C9C1Im","C6C1Im","C4C1Im","C4C2Im","C2C2SO4","C4C4Im","C2C1Im","C2C1py","C8C1pyr","C1C1pyr","C2C1pyr","C4C1pyr","S444","P6661","P66614","P2228","C4C2pyr","P4444","P2444","N4444","P2222"],"range":[-10.06,553.06],"paddingInner":0,"paddingOuter":0},
"axis":{"orient":"left","title":"Cations","tickSize":8,"labelPadding":2,"minExtent":92,"maxExtent":92,"titlePadding":12,
"labelExpr":"'[' + replace(replace(replace(replace(replace(replace(replace(replace(replace(datum.value,regexp('1','g'),'₁'),regexp('2','g'),'₂'),regexp('3','g'),'₃'),regexp('4','g'),'₄'),regexp('5','g'),'₅'),regexp('6','g'),'₆'),regexp('7','g'),'₇'),regexp('8','g'),'₈'),regexp('9','g'),'₉') + ']'",
"labelColor":{"condition":[{"test":"indexof(['C2C1Im','C8H4F13Im','C2C1py','C8C1Im'], datum.value) >= 0","value":"#ff0000"},{"test":"indexof(['P66614','P2444'], datum.value) >= 0","value":"#0000ff"}],"value":"black"}}},
"color":{"field":"v","type":"quantitative","scale":{"type":"threshold","domain":[2,4,8,20],"range":["#f0f0f0","#c0c0c0","#808080","#333333","#000000"]},"legend":null},
"stroke":{"field":"v","type":"quantitative","scale":{"type":"threshold","domain":[2,4,8,20],"range":["#f0f0f0","#c0c0c0","#808080","#333333","#000000"]},"legend":null}}},
{"data":{"name":"tb"},"mark":{"type":"text","fontSize":15,"fontWeight":"bold","font":"Liberation Serif","dx":11,"dy":10,"baseline":"middle"},
"encoding":{
"x":{"field":"x","type":"nominal","axis":{"orient":"bottom","labels":false,"title":null,"tickSize":4,"bandPosition":0,"values":["C1PO3","C2PO3","C2CO2","C1C1PO4","C4PO4","C2C2PO4","CSO3","C2NO2","C2SO4","C3H3N2","SCN","C1SO4","C2SO3","C4C4PO4","C4SO4","N(CN)2","C4F9CO2","CNpyr","BF4","C7H5N2","C8F17SO3","C4F9SO3","CF3SO3","CF4SO3","N(CF3SO2)2","PF6","N(C4F9SO2)2","N(C2F5SO2)2","(C2F5)3PF3"]}},
"y":{"field":"y","type":"nominal","axis":{"orient":"left","labels":false,"title":null,"tickSize":4,"bandPosition":0,"values":["C8H4F13Im","C2Im","C8pyr","C2C1(OH)Im","N1112(OH)","C8C1Im","C9C1Im","C6C1Im","C4C1Im","C4C2Im","C2C2SO4","C4C4Im","C2C1Im","C2C1py","C8C1pyr","C1C1pyr","C2C1pyr","C4C1pyr","S444","P6661","P66614","P2228","C4C2pyr","P4444","P2444","N4444","P2222"]}},
"text":{"field":"t"}}}
]},
{"width":74,"height":284,"view":{"stroke":"#d0d0d0","strokeWidth":1},
"data":{"name":"lb"},"mark":"rect",
"encoding":{
"y":{"field":"cls","type":"nominal","sort":null,"scale":{"paddingInner":0,"paddingOuter":0},
"axis":{"orient":"right","bandPosition":1,"ticks":false,"domain":false,"labelPadding":8,"title":null,"labelFontSize":13,
"labelExpr":"indexof(datum.value,'>')==0 ? '' : (indexof(datum.value,'<')==0 ? slice(datum.value,1) : slice(datum.value, indexof(datum.value,'-')+1))"}},
"color":{"field":"v","type":"quantitative","scale":{"type":"threshold","domain":[2,4,8,20],"range":["#f0f0f0","#c0c0c0","#808080","#333333","#000000"]},"legend":null}}}
]}
]
}
